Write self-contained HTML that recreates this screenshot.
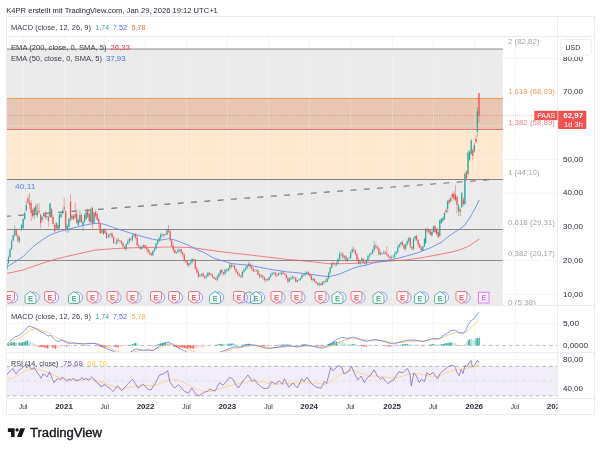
<!DOCTYPE html>
<html><head><meta charset="utf-8"><title>PAAS chart</title>
<style>html,body{margin:0;padding:0;background:#fff;}body{width:600px;height:451px;overflow:hidden;font-family:"Liberation Sans",sans-serif;}svg{display:block;will-change:transform;}</style>
</head><body>
<svg width="600" height="451" viewBox="0 0 600 451" font-family="Liberation Sans, sans-serif">
<rect width="600" height="451" fill="#ffffff"/>
<defs>
<clipPath id="cMain"><rect x="6.5" y="36.5" width="551.0" height="269.0"/></clipPath>
<clipPath id="cMacd"><rect x="6.5" y="305.5" width="551.0" height="47.0"/></clipPath>
<clipPath id="cRsi"><rect x="6.5" y="352.5" width="551.0" height="46.0"/></clipPath>
</defs>
<text x="6.3" y="12.6" font-size="6.7" fill="#1e222d" text-anchor="start" font-weight="normal" textLength="211.5" lengthAdjust="spacingAndGlyphs" >K4PR erstellt mit TradingView.com, Jan 29, 2026 19:12 UTC+1</text>
<line x1="23.5" y1="36.5" x2="23.5" y2="398.5" stroke="#f5f5f8" stroke-width="1"/>
<line x1="64.5" y1="36.5" x2="64.5" y2="398.5" stroke="#f5f5f8" stroke-width="1"/>
<line x1="104.5" y1="36.5" x2="104.5" y2="398.5" stroke="#f5f5f8" stroke-width="1"/>
<line x1="145.5" y1="36.5" x2="145.5" y2="398.5" stroke="#f5f5f8" stroke-width="1"/>
<line x1="186.5" y1="36.5" x2="186.5" y2="398.5" stroke="#f5f5f8" stroke-width="1"/>
<line x1="227.5" y1="36.5" x2="227.5" y2="398.5" stroke="#f5f5f8" stroke-width="1"/>
<line x1="268.5" y1="36.5" x2="268.5" y2="398.5" stroke="#f5f5f8" stroke-width="1"/>
<line x1="309.5" y1="36.5" x2="309.5" y2="398.5" stroke="#f5f5f8" stroke-width="1"/>
<line x1="350.5" y1="36.5" x2="350.5" y2="398.5" stroke="#f5f5f8" stroke-width="1"/>
<line x1="392.5" y1="36.5" x2="392.5" y2="398.5" stroke="#f5f5f8" stroke-width="1"/>
<line x1="433.5" y1="36.5" x2="433.5" y2="398.5" stroke="#f5f5f8" stroke-width="1"/>
<line x1="474.5" y1="36.5" x2="474.5" y2="398.5" stroke="#f5f5f8" stroke-width="1"/>
<line x1="515.5" y1="36.5" x2="515.5" y2="398.5" stroke="#f5f5f8" stroke-width="1"/>
<line x1="6.5" y1="58.4" x2="557.5" y2="58.4" stroke="#f5f5f8" stroke-width="1"/>
<line x1="6.5" y1="92.2" x2="557.5" y2="92.2" stroke="#f5f5f8" stroke-width="1"/>
<line x1="6.5" y1="125.7" x2="557.5" y2="125.7" stroke="#f5f5f8" stroke-width="1"/>
<line x1="6.5" y1="159.5" x2="557.5" y2="159.5" stroke="#f5f5f8" stroke-width="1"/>
<line x1="6.5" y1="193.2" x2="557.5" y2="193.2" stroke="#f5f5f8" stroke-width="1"/>
<line x1="6.5" y1="226.8" x2="557.5" y2="226.8" stroke="#f5f5f8" stroke-width="1"/>
<line x1="6.5" y1="260.6" x2="557.5" y2="260.6" stroke="#f5f5f8" stroke-width="1"/>
<line x1="6.5" y1="294.4" x2="557.5" y2="294.4" stroke="#f5f5f8" stroke-width="1"/>
<line x1="6.5" y1="323.4" x2="557.5" y2="323.4" stroke="#f5f5f8" stroke-width="1"/>
<line x1="6.5" y1="359.5" x2="557.5" y2="359.5" stroke="#f5f5f8" stroke-width="1"/>
<g clip-path="url(#cMain)">
<rect x="6.5" y="49.1" width="496.3" height="49.4" fill="#ebebeb"/>
<rect x="6.5" y="98.5" width="496.3" height="31.0" fill="#e8c6b4"/>
<rect x="6.5" y="129.5" width="496.3" height="50.0" fill="#fee9d0"/>
<rect x="6.5" y="179.5" width="496.3" height="50.0" fill="#ebebeb"/>
<rect x="6.5" y="229.5" width="496.3" height="31.0" fill="#ebebeb"/>
<rect x="6.5" y="260.5" width="496.3" height="47.5" fill="#ebebeb"/>
<line x1="23.5" y1="49.1" x2="23.5" y2="305.5" stroke="#ffffff" stroke-opacity="0.22" stroke-width="1"/>
<line x1="64.5" y1="49.1" x2="64.5" y2="305.5" stroke="#ffffff" stroke-opacity="0.22" stroke-width="1"/>
<line x1="104.5" y1="49.1" x2="104.5" y2="305.5" stroke="#ffffff" stroke-opacity="0.22" stroke-width="1"/>
<line x1="145.5" y1="49.1" x2="145.5" y2="305.5" stroke="#ffffff" stroke-opacity="0.22" stroke-width="1"/>
<line x1="186.5" y1="49.1" x2="186.5" y2="305.5" stroke="#ffffff" stroke-opacity="0.22" stroke-width="1"/>
<line x1="227.5" y1="49.1" x2="227.5" y2="305.5" stroke="#ffffff" stroke-opacity="0.22" stroke-width="1"/>
<line x1="268.5" y1="49.1" x2="268.5" y2="305.5" stroke="#ffffff" stroke-opacity="0.22" stroke-width="1"/>
<line x1="309.5" y1="49.1" x2="309.5" y2="305.5" stroke="#ffffff" stroke-opacity="0.22" stroke-width="1"/>
<line x1="350.5" y1="49.1" x2="350.5" y2="305.5" stroke="#ffffff" stroke-opacity="0.22" stroke-width="1"/>
<line x1="392.5" y1="49.1" x2="392.5" y2="305.5" stroke="#ffffff" stroke-opacity="0.22" stroke-width="1"/>
<line x1="433.5" y1="49.1" x2="433.5" y2="305.5" stroke="#ffffff" stroke-opacity="0.22" stroke-width="1"/>
<line x1="474.5" y1="49.1" x2="474.5" y2="305.5" stroke="#ffffff" stroke-opacity="0.22" stroke-width="1"/>
<line x1="6.5" y1="58.4" x2="502.8" y2="58.4" stroke="#ffffff" stroke-opacity="0.2" stroke-width="1"/>
<line x1="6.5" y1="92.2" x2="502.8" y2="92.2" stroke="#ffffff" stroke-opacity="0.2" stroke-width="1"/>
<line x1="6.5" y1="125.7" x2="502.8" y2="125.7" stroke="#ffffff" stroke-opacity="0.2" stroke-width="1"/>
<line x1="6.5" y1="159.5" x2="502.8" y2="159.5" stroke="#ffffff" stroke-opacity="0.2" stroke-width="1"/>
<line x1="6.5" y1="193.2" x2="502.8" y2="193.2" stroke="#ffffff" stroke-opacity="0.2" stroke-width="1"/>
<line x1="6.5" y1="226.8" x2="502.8" y2="226.8" stroke="#ffffff" stroke-opacity="0.2" stroke-width="1"/>
<line x1="6.5" y1="260.6" x2="502.8" y2="260.6" stroke="#ffffff" stroke-opacity="0.2" stroke-width="1"/>
<line x1="6.5" y1="294.4" x2="502.8" y2="294.4" stroke="#ffffff" stroke-opacity="0.2" stroke-width="1"/>
<line x1="6.5" y1="49.1" x2="502.8" y2="49.1" stroke="#b6b6b6" stroke-width="1.7"/>
<line x1="6.5" y1="98.5" x2="502.8" y2="98.5" stroke="#fa9b46" stroke-width="1.2"/>
<line x1="6.5" y1="129.5" x2="502.8" y2="129.5" stroke="#f36e78" stroke-width="1.2"/>
<line x1="6.5" y1="179.5" x2="502.8" y2="179.5" stroke="#838387" stroke-width="1"/>
<line x1="6.5" y1="229.5" x2="502.8" y2="229.5" stroke="#878787" stroke-width="1"/>
<line x1="6.5" y1="260.5" x2="502.8" y2="260.5" stroke="#8a8a8a" stroke-width="1"/>
<line x1="6.5" y1="115.6" x2="557.5" y2="115.6" stroke="#f23645" stroke-width="0.9" stroke-dasharray="0.9 1.4" opacity="0.5"/>
<line x1="6.5" y1="216.3" x2="489" y2="179.8" stroke="#707070" stroke-width="1.1" stroke-dasharray="5.9 7.42" stroke-dashoffset="1.4"/>
<polyline points="6.0,273.7 23.0,270.0 40.0,264.0 56.0,259.0 73.0,255.0 95.0,250.1 113.0,248.7 132.0,247.8 150.0,247.4 168.5,247.0 187.0,247.4 195.0,248.0 213.4,250.7 231.8,253.0 250.0,255.0 268.5,257.2 287.0,259.4 295.0,260.0 313.0,261.9 329.0,263.7 341.0,263.7 359.0,263.2 377.7,261.9 396.0,260.6 405.0,260.0 420.0,258.0 435.0,255.3 450.0,252.4 459.3,250.0 468.5,246.3 474.0,242.6 479.2,239.0" fill="none" stroke="#f0616b" stroke-width="0.8" stroke-linejoin="round" />
<polyline points="6.0,267.5 14.0,262.5 23.0,256.7 33.0,246.7 42.0,240.0 50.0,235.0 58.0,232.0 65.0,230.0 75.0,227.5 85.0,225.0 92.0,223.8 98.0,223.3 104.0,224.2 113.4,227.5 118.0,229.0 131.3,233.4 150.0,238.6 158.0,240.3 164.0,239.6 168.5,238.6 173.0,239.5 177.7,241.0 187.0,244.6 196.0,249.2 204.2,252.6 213.4,258.0 222.6,260.8 231.8,263.6 250.0,265.4 268.5,269.0 287.0,271.9 295.0,272.5 304.0,273.5 313.4,274.7 322.6,276.0 329.0,276.6 335.0,275.3 341.0,273.5 345.0,271.7 353.0,268.3 360.0,266.3 366.7,265.0 373.0,263.0 380.0,261.7 387.0,260.3 396.0,258.8 405.0,256.4 418.0,252.7 431.8,247.2 441.0,242.6 450.0,235.3 459.3,229.2 464.9,225.0 470.4,216.9 475.9,206.8 479.2,200.0" fill="none" stroke="#5b7cf7" stroke-width="0.8" stroke-linejoin="round" />
<line x1="6.90" y1="262.3" x2="6.90" y2="269.8" stroke="#26a69a" stroke-width="0.5"/>
<rect x="6.35" y="263.2" width="1.1" height="6.0" fill="#26a69a"/>
<line x1="8.47" y1="255.6" x2="8.47" y2="263.7" stroke="#26a69a" stroke-width="0.5"/>
<rect x="7.92" y="257.2" width="1.1" height="6.1" fill="#26a69a"/>
<line x1="10.04" y1="248.0" x2="10.04" y2="258.1" stroke="#26a69a" stroke-width="0.5"/>
<rect x="9.49" y="249.3" width="1.1" height="7.8" fill="#26a69a"/>
<line x1="11.61" y1="239.4" x2="11.61" y2="249.7" stroke="#26a69a" stroke-width="0.5"/>
<rect x="11.06" y="240.6" width="1.1" height="8.7" fill="#26a69a"/>
<line x1="13.18" y1="234.6" x2="13.18" y2="241.1" stroke="#26a69a" stroke-width="0.5"/>
<rect x="12.63" y="235.1" width="1.1" height="5.6" fill="#26a69a"/>
<line x1="14.75" y1="225.0" x2="14.75" y2="236.9" stroke="#26a69a" stroke-width="0.5"/>
<rect x="14.20" y="229.0" width="1.1" height="6.1" fill="#26a69a"/>
<line x1="16.32" y1="228.5" x2="16.32" y2="236.5" stroke="#ef5350" stroke-width="0.5"/>
<rect x="15.77" y="229.0" width="1.1" height="6.7" fill="#ef5350"/>
<line x1="17.89" y1="234.3" x2="17.89" y2="242.8" stroke="#ef5350" stroke-width="0.5"/>
<rect x="17.34" y="235.8" width="1.1" height="5.0" fill="#ef5350"/>
<line x1="19.46" y1="236.3" x2="19.46" y2="242.9" stroke="#26a69a" stroke-width="0.5"/>
<rect x="18.91" y="237.3" width="1.1" height="3.4" fill="#26a69a"/>
<line x1="108.93" y1="233.1" x2="108.93" y2="238.1" stroke="#26a69a" stroke-width="0.5"/>
<rect x="108.38" y="235.0" width="1.1" height="2.3" fill="#26a69a"/>
<line x1="110.50" y1="233.2" x2="110.50" y2="235.5" stroke="#26a69a" stroke-width="0.5"/>
<rect x="109.95" y="233.8" width="1.1" height="1.2" fill="#26a69a"/>
<line x1="112.07" y1="231.9" x2="112.07" y2="238.0" stroke="#ef5350" stroke-width="0.5"/>
<rect x="111.52" y="233.8" width="1.1" height="3.6" fill="#ef5350"/>
<line x1="113.64" y1="235.8" x2="113.64" y2="243.9" stroke="#ef5350" stroke-width="0.5"/>
<rect x="113.09" y="237.4" width="1.1" height="5.5" fill="#ef5350"/>
<line x1="115.21" y1="242.5" x2="115.21" y2="243.8" stroke="#ef5350" stroke-width="0.5"/>
<rect x="114.66" y="242.9" width="1.1" height="0.5" fill="#ef5350"/>
<line x1="116.78" y1="238.3" x2="116.78" y2="244.5" stroke="#26a69a" stroke-width="0.5"/>
<rect x="116.23" y="239.9" width="1.1" height="3.5" fill="#26a69a"/>
<line x1="118.35" y1="237.9" x2="118.35" y2="241.7" stroke="#ef5350" stroke-width="0.5"/>
<rect x="117.80" y="239.9" width="1.1" height="0.8" fill="#ef5350"/>
<line x1="119.92" y1="240.0" x2="119.92" y2="243.0" stroke="#ef5350" stroke-width="0.5"/>
<rect x="119.37" y="240.7" width="1.1" height="0.6" fill="#ef5350"/>
<line x1="121.49" y1="240.4" x2="121.49" y2="244.5" stroke="#ef5350" stroke-width="0.5"/>
<rect x="120.94" y="241.3" width="1.1" height="2.0" fill="#ef5350"/>
<line x1="123.06" y1="242.1" x2="123.06" y2="248.0" stroke="#ef5350" stroke-width="0.5"/>
<rect x="122.51" y="243.2" width="1.1" height="3.3" fill="#ef5350"/>
<line x1="124.63" y1="246.1" x2="124.63" y2="250.0" stroke="#ef5350" stroke-width="0.5"/>
<rect x="124.08" y="246.6" width="1.1" height="2.1" fill="#ef5350"/>
<line x1="126.20" y1="243.2" x2="126.20" y2="250.8" stroke="#26a69a" stroke-width="0.5"/>
<rect x="125.65" y="244.1" width="1.1" height="4.6" fill="#26a69a"/>
<line x1="127.77" y1="239.4" x2="127.77" y2="244.6" stroke="#26a69a" stroke-width="0.5"/>
<rect x="127.22" y="241.5" width="1.1" height="2.7" fill="#26a69a"/>
<line x1="129.34" y1="237.3" x2="129.34" y2="243.3" stroke="#26a69a" stroke-width="0.5"/>
<rect x="128.79" y="238.7" width="1.1" height="2.8" fill="#26a69a"/>
<line x1="130.91" y1="237.3" x2="130.91" y2="241.1" stroke="#ef5350" stroke-width="0.5"/>
<rect x="130.36" y="238.7" width="1.1" height="1.0" fill="#ef5350"/>
<line x1="132.48" y1="233.8" x2="132.48" y2="241.7" stroke="#26a69a" stroke-width="0.5"/>
<rect x="131.93" y="235.7" width="1.1" height="3.9" fill="#26a69a"/>
<line x1="134.05" y1="233.4" x2="134.05" y2="237.3" stroke="#26a69a" stroke-width="0.5"/>
<rect x="133.50" y="234.6" width="1.1" height="1.1" fill="#26a69a"/>
<line x1="135.62" y1="233.0" x2="135.62" y2="239.2" stroke="#ef5350" stroke-width="0.5"/>
<rect x="135.07" y="234.6" width="1.1" height="3.1" fill="#ef5350"/>
<line x1="137.19" y1="235.8" x2="137.19" y2="246.0" stroke="#ef5350" stroke-width="0.5"/>
<rect x="136.64" y="237.7" width="1.1" height="7.5" fill="#ef5350"/>
<line x1="138.75" y1="243.6" x2="138.75" y2="247.2" stroke="#ef5350" stroke-width="0.5"/>
<rect x="138.20" y="245.2" width="1.1" height="1.6" fill="#ef5350"/>
<line x1="140.32" y1="246.2" x2="140.32" y2="249.6" stroke="#ef5350" stroke-width="0.5"/>
<rect x="139.77" y="246.8" width="1.1" height="2.2" fill="#ef5350"/>
<line x1="141.89" y1="245.0" x2="141.89" y2="249.6" stroke="#26a69a" stroke-width="0.5"/>
<rect x="141.34" y="246.8" width="1.1" height="2.2" fill="#26a69a"/>
<line x1="143.46" y1="244.3" x2="143.46" y2="247.8" stroke="#26a69a" stroke-width="0.5"/>
<rect x="142.91" y="245.1" width="1.1" height="1.7" fill="#26a69a"/>
<line x1="145.03" y1="244.6" x2="145.03" y2="248.9" stroke="#ef5350" stroke-width="0.5"/>
<rect x="144.48" y="245.1" width="1.1" height="2.7" fill="#ef5350"/>
<line x1="146.60" y1="245.8" x2="146.60" y2="250.9" stroke="#ef5350" stroke-width="0.5"/>
<rect x="146.05" y="247.7" width="1.1" height="1.3" fill="#ef5350"/>
<line x1="148.17" y1="248.2" x2="148.17" y2="253.5" stroke="#ef5350" stroke-width="0.5"/>
<rect x="147.62" y="249.0" width="1.1" height="3.4" fill="#ef5350"/>
<line x1="149.74" y1="250.4" x2="149.74" y2="255.4" stroke="#ef5350" stroke-width="0.5"/>
<rect x="149.19" y="252.4" width="1.1" height="0.9" fill="#ef5350"/>
<line x1="151.31" y1="252.7" x2="151.31" y2="255.7" stroke="#ef5350" stroke-width="0.5"/>
<rect x="150.76" y="253.3" width="1.1" height="1.8" fill="#ef5350"/>
<line x1="152.88" y1="250.3" x2="152.88" y2="256.3" stroke="#26a69a" stroke-width="0.5"/>
<rect x="152.33" y="251.1" width="1.1" height="4.0" fill="#26a69a"/>
<line x1="154.45" y1="247.4" x2="154.45" y2="251.9" stroke="#26a69a" stroke-width="0.5"/>
<rect x="153.90" y="248.8" width="1.1" height="2.3" fill="#26a69a"/>
<line x1="156.02" y1="242.3" x2="156.02" y2="249.8" stroke="#26a69a" stroke-width="0.5"/>
<rect x="155.47" y="243.4" width="1.1" height="5.4" fill="#26a69a"/>
<line x1="157.59" y1="239.1" x2="157.59" y2="245.0" stroke="#26a69a" stroke-width="0.5"/>
<rect x="157.04" y="241.2" width="1.1" height="2.1" fill="#26a69a"/>
<line x1="159.16" y1="236.6" x2="159.16" y2="242.8" stroke="#26a69a" stroke-width="0.5"/>
<rect x="158.61" y="238.1" width="1.1" height="3.1" fill="#26a69a"/>
<line x1="160.73" y1="232.7" x2="160.73" y2="239.9" stroke="#26a69a" stroke-width="0.5"/>
<rect x="160.18" y="234.7" width="1.1" height="3.4" fill="#26a69a"/>
<line x1="162.30" y1="233.6" x2="162.30" y2="236.6" stroke="#ef5350" stroke-width="0.5"/>
<rect x="161.75" y="234.7" width="1.1" height="0.7" fill="#ef5350"/>
<line x1="163.87" y1="233.5" x2="163.87" y2="237.5" stroke="#26a69a" stroke-width="0.5"/>
<rect x="163.32" y="234.2" width="1.1" height="1.2" fill="#26a69a"/>
<line x1="165.44" y1="233.2" x2="165.44" y2="235.1" stroke="#ef5350" stroke-width="0.5"/>
<rect x="164.89" y="234.2" width="1.1" height="0.5" fill="#ef5350"/>
<line x1="167.01" y1="228.7" x2="167.01" y2="235.2" stroke="#26a69a" stroke-width="0.5"/>
<rect x="166.46" y="229.3" width="1.1" height="5.4" fill="#26a69a"/>
<line x1="168.58" y1="225.0" x2="168.58" y2="233.1" stroke="#ef5350" stroke-width="0.5"/>
<rect x="168.03" y="229.3" width="1.1" height="1.9" fill="#ef5350"/>
<line x1="170.15" y1="230.6" x2="170.15" y2="241.3" stroke="#ef5350" stroke-width="0.5"/>
<rect x="169.60" y="231.2" width="1.1" height="9.3" fill="#ef5350"/>
<line x1="171.72" y1="239.5" x2="171.72" y2="247.0" stroke="#ef5350" stroke-width="0.5"/>
<rect x="171.17" y="240.5" width="1.1" height="5.5" fill="#ef5350"/>
<line x1="173.29" y1="244.1" x2="173.29" y2="252.4" stroke="#ef5350" stroke-width="0.5"/>
<rect x="172.74" y="246.0" width="1.1" height="4.1" fill="#ef5350"/>
<line x1="174.86" y1="248.9" x2="174.86" y2="253.6" stroke="#ef5350" stroke-width="0.5"/>
<rect x="174.31" y="250.2" width="1.1" height="3.0" fill="#ef5350"/>
<line x1="176.43" y1="251.7" x2="176.43" y2="254.1" stroke="#26a69a" stroke-width="0.5"/>
<rect x="175.88" y="252.2" width="1.1" height="0.9" fill="#26a69a"/>
<line x1="178.00" y1="248.2" x2="178.00" y2="252.8" stroke="#26a69a" stroke-width="0.5"/>
<rect x="177.45" y="250.0" width="1.1" height="2.2" fill="#26a69a"/>
<line x1="179.57" y1="248.9" x2="179.57" y2="252.2" stroke="#26a69a" stroke-width="0.5"/>
<rect x="179.02" y="249.2" width="1.1" height="0.8" fill="#26a69a"/>
<line x1="181.14" y1="248.7" x2="181.14" y2="254.2" stroke="#ef5350" stroke-width="0.5"/>
<rect x="180.59" y="249.2" width="1.1" height="3.6" fill="#ef5350"/>
<line x1="182.71" y1="251.5" x2="182.71" y2="257.0" stroke="#ef5350" stroke-width="0.5"/>
<rect x="182.16" y="252.8" width="1.1" height="2.0" fill="#ef5350"/>
<line x1="184.28" y1="253.2" x2="184.28" y2="261.4" stroke="#ef5350" stroke-width="0.5"/>
<rect x="183.73" y="254.8" width="1.1" height="5.8" fill="#ef5350"/>
<line x1="185.85" y1="260.0" x2="185.85" y2="263.6" stroke="#ef5350" stroke-width="0.5"/>
<rect x="185.30" y="260.6" width="1.1" height="1.2" fill="#ef5350"/>
<line x1="187.42" y1="260.5" x2="187.42" y2="266.9" stroke="#ef5350" stroke-width="0.5"/>
<rect x="186.87" y="261.8" width="1.1" height="3.3" fill="#ef5350"/>
<line x1="188.99" y1="262.8" x2="188.99" y2="266.9" stroke="#26a69a" stroke-width="0.5"/>
<rect x="188.44" y="263.5" width="1.1" height="1.6" fill="#26a69a"/>
<line x1="190.55" y1="260.6" x2="190.55" y2="265.2" stroke="#26a69a" stroke-width="0.5"/>
<rect x="190.00" y="262.4" width="1.1" height="1.0" fill="#26a69a"/>
<line x1="192.12" y1="257.8" x2="192.12" y2="263.4" stroke="#26a69a" stroke-width="0.5"/>
<rect x="191.57" y="259.0" width="1.1" height="3.4" fill="#26a69a"/>
<line x1="193.69" y1="258.7" x2="193.69" y2="259.9" stroke="#ef5350" stroke-width="0.5"/>
<rect x="193.14" y="259.0" width="1.1" height="0.5" fill="#ef5350"/>
<line x1="195.26" y1="258.7" x2="195.26" y2="269.4" stroke="#ef5350" stroke-width="0.5"/>
<rect x="194.71" y="259.6" width="1.1" height="9.1" fill="#ef5350"/>
<line x1="196.83" y1="266.5" x2="196.83" y2="273.5" stroke="#ef5350" stroke-width="0.5"/>
<rect x="196.28" y="268.6" width="1.1" height="3.8" fill="#ef5350"/>
<line x1="198.40" y1="270.2" x2="198.40" y2="278.4" stroke="#ef5350" stroke-width="0.5"/>
<rect x="197.85" y="272.4" width="1.1" height="3.9" fill="#ef5350"/>
<line x1="199.97" y1="274.3" x2="199.97" y2="277.0" stroke="#26a69a" stroke-width="0.5"/>
<rect x="199.42" y="275.1" width="1.1" height="1.2" fill="#26a69a"/>
<line x1="201.54" y1="273.3" x2="201.54" y2="276.6" stroke="#26a69a" stroke-width="0.5"/>
<rect x="200.99" y="273.9" width="1.1" height="1.1" fill="#26a69a"/>
<line x1="203.11" y1="272.1" x2="203.11" y2="277.6" stroke="#ef5350" stroke-width="0.5"/>
<rect x="202.56" y="273.9" width="1.1" height="2.5" fill="#ef5350"/>
<line x1="204.68" y1="275.9" x2="204.68" y2="279.0" stroke="#ef5350" stroke-width="0.5"/>
<rect x="204.13" y="276.4" width="1.1" height="1.0" fill="#ef5350"/>
<line x1="206.25" y1="274.4" x2="206.25" y2="279.2" stroke="#26a69a" stroke-width="0.5"/>
<rect x="205.70" y="276.2" width="1.1" height="1.2" fill="#26a69a"/>
<line x1="207.82" y1="271.7" x2="207.82" y2="276.9" stroke="#26a69a" stroke-width="0.5"/>
<rect x="207.27" y="272.9" width="1.1" height="3.3" fill="#26a69a"/>
<line x1="209.39" y1="272.0" x2="209.39" y2="275.9" stroke="#ef5350" stroke-width="0.5"/>
<rect x="208.84" y="272.9" width="1.1" height="1.2" fill="#ef5350"/>
<line x1="210.96" y1="273.0" x2="210.96" y2="276.1" stroke="#ef5350" stroke-width="0.5"/>
<rect x="210.41" y="274.1" width="1.1" height="1.0" fill="#ef5350"/>
<line x1="212.53" y1="273.4" x2="212.53" y2="277.8" stroke="#ef5350" stroke-width="0.5"/>
<rect x="211.98" y="275.1" width="1.1" height="2.1" fill="#ef5350"/>
<line x1="214.10" y1="276.6" x2="214.10" y2="279.4" stroke="#ef5350" stroke-width="0.5"/>
<rect x="213.55" y="277.2" width="1.1" height="1.7" fill="#ef5350"/>
<line x1="215.67" y1="277.0" x2="215.67" y2="280.2" stroke="#ef5350" stroke-width="0.5"/>
<rect x="215.12" y="278.8" width="1.1" height="0.8" fill="#ef5350"/>
<line x1="217.24" y1="275.0" x2="217.24" y2="281.7" stroke="#26a69a" stroke-width="0.5"/>
<rect x="216.69" y="276.9" width="1.1" height="2.7" fill="#26a69a"/>
<line x1="218.81" y1="272.8" x2="218.81" y2="278.2" stroke="#26a69a" stroke-width="0.5"/>
<rect x="218.26" y="273.8" width="1.1" height="3.1" fill="#26a69a"/>
<line x1="220.38" y1="269.8" x2="220.38" y2="275.9" stroke="#26a69a" stroke-width="0.5"/>
<rect x="219.83" y="270.1" width="1.1" height="3.7" fill="#26a69a"/>
<line x1="221.95" y1="268.8" x2="221.95" y2="274.6" stroke="#ef5350" stroke-width="0.5"/>
<rect x="221.40" y="270.1" width="1.1" height="2.4" fill="#ef5350"/>
<line x1="223.52" y1="271.9" x2="223.52" y2="275.7" stroke="#ef5350" stroke-width="0.5"/>
<rect x="222.97" y="272.5" width="1.1" height="1.2" fill="#ef5350"/>
<line x1="225.09" y1="269.0" x2="225.09" y2="275.0" stroke="#26a69a" stroke-width="0.5"/>
<rect x="224.54" y="269.7" width="1.1" height="4.1" fill="#26a69a"/>
<line x1="226.66" y1="268.7" x2="226.66" y2="271.7" stroke="#ef5350" stroke-width="0.5"/>
<rect x="226.11" y="269.7" width="1.1" height="0.7" fill="#ef5350"/>
<line x1="228.23" y1="268.0" x2="228.23" y2="272.1" stroke="#26a69a" stroke-width="0.5"/>
<rect x="227.68" y="268.4" width="1.1" height="2.0" fill="#26a69a"/>
<line x1="229.80" y1="262.8" x2="229.80" y2="270.0" stroke="#26a69a" stroke-width="0.5"/>
<rect x="229.25" y="264.8" width="1.1" height="3.6" fill="#26a69a"/>
<line x1="231.37" y1="263.5" x2="231.37" y2="268.3" stroke="#ef5350" stroke-width="0.5"/>
<rect x="230.82" y="264.8" width="1.1" height="1.6" fill="#ef5350"/>
<line x1="232.94" y1="264.4" x2="232.94" y2="266.8" stroke="#26a69a" stroke-width="0.5"/>
<rect x="232.39" y="265.6" width="1.1" height="0.8" fill="#26a69a"/>
<line x1="234.51" y1="265.0" x2="234.51" y2="269.6" stroke="#ef5350" stroke-width="0.5"/>
<rect x="233.96" y="265.6" width="1.1" height="3.7" fill="#ef5350"/>
<line x1="236.08" y1="267.5" x2="236.08" y2="272.9" stroke="#ef5350" stroke-width="0.5"/>
<rect x="235.53" y="269.3" width="1.1" height="2.9" fill="#ef5350"/>
<line x1="237.65" y1="270.6" x2="237.65" y2="275.7" stroke="#ef5350" stroke-width="0.5"/>
<rect x="237.10" y="272.2" width="1.1" height="2.1" fill="#ef5350"/>
<line x1="239.22" y1="273.0" x2="239.22" y2="277.2" stroke="#ef5350" stroke-width="0.5"/>
<rect x="238.67" y="274.3" width="1.1" height="1.5" fill="#ef5350"/>
<line x1="240.79" y1="275.3" x2="240.79" y2="278.1" stroke="#ef5350" stroke-width="0.5"/>
<rect x="240.24" y="275.8" width="1.1" height="0.9" fill="#ef5350"/>
<line x1="242.36" y1="271.1" x2="242.36" y2="278.5" stroke="#26a69a" stroke-width="0.5"/>
<rect x="241.81" y="271.9" width="1.1" height="4.9" fill="#26a69a"/>
<line x1="243.92" y1="268.4" x2="243.92" y2="273.3" stroke="#26a69a" stroke-width="0.5"/>
<rect x="243.37" y="269.7" width="1.1" height="2.2" fill="#26a69a"/>
<line x1="245.49" y1="266.3" x2="245.49" y2="270.8" stroke="#26a69a" stroke-width="0.5"/>
<rect x="244.94" y="268.3" width="1.1" height="1.4" fill="#26a69a"/>
<line x1="247.06" y1="264.4" x2="247.06" y2="269.6" stroke="#26a69a" stroke-width="0.5"/>
<rect x="246.51" y="265.7" width="1.1" height="2.7" fill="#26a69a"/>
<line x1="248.63" y1="261.5" x2="248.63" y2="266.8" stroke="#26a69a" stroke-width="0.5"/>
<rect x="248.08" y="264.1" width="1.1" height="1.6" fill="#26a69a"/>
<line x1="250.20" y1="262.9" x2="250.20" y2="268.6" stroke="#ef5350" stroke-width="0.5"/>
<rect x="249.65" y="264.1" width="1.1" height="2.4" fill="#ef5350"/>
<line x1="251.77" y1="264.9" x2="251.77" y2="270.6" stroke="#ef5350" stroke-width="0.5"/>
<rect x="251.22" y="266.5" width="1.1" height="2.2" fill="#ef5350"/>
<line x1="253.34" y1="267.9" x2="253.34" y2="272.1" stroke="#ef5350" stroke-width="0.5"/>
<rect x="252.79" y="268.7" width="1.1" height="2.1" fill="#ef5350"/>
<line x1="254.91" y1="268.9" x2="254.91" y2="271.8" stroke="#ef5350" stroke-width="0.5"/>
<rect x="254.36" y="270.8" width="1.1" height="0.5" fill="#ef5350"/>
<line x1="256.48" y1="269.2" x2="256.48" y2="271.6" stroke="#26a69a" stroke-width="0.5"/>
<rect x="255.93" y="270.4" width="1.1" height="0.8" fill="#26a69a"/>
<line x1="258.05" y1="269.6" x2="258.05" y2="275.2" stroke="#ef5350" stroke-width="0.5"/>
<rect x="257.50" y="270.4" width="1.1" height="4.4" fill="#ef5350"/>
<line x1="259.62" y1="273.0" x2="259.62" y2="278.6" stroke="#ef5350" stroke-width="0.5"/>
<rect x="259.07" y="274.8" width="1.1" height="1.8" fill="#ef5350"/>
<line x1="261.19" y1="273.9" x2="261.19" y2="278.1" stroke="#26a69a" stroke-width="0.5"/>
<rect x="260.64" y="275.5" width="1.1" height="1.0" fill="#26a69a"/>
<line x1="262.76" y1="275.0" x2="262.76" y2="279.3" stroke="#ef5350" stroke-width="0.5"/>
<rect x="262.21" y="275.5" width="1.1" height="1.8" fill="#ef5350"/>
<line x1="264.33" y1="276.6" x2="264.33" y2="281.9" stroke="#ef5350" stroke-width="0.5"/>
<rect x="263.78" y="277.3" width="1.1" height="2.5" fill="#ef5350"/>
<line x1="265.90" y1="277.9" x2="265.90" y2="282.0" stroke="#26a69a" stroke-width="0.5"/>
<rect x="265.35" y="279.1" width="1.1" height="0.7" fill="#26a69a"/>
<line x1="267.47" y1="278.5" x2="267.47" y2="281.3" stroke="#ef5350" stroke-width="0.5"/>
<rect x="266.92" y="279.1" width="1.1" height="1.0" fill="#ef5350"/>
<line x1="269.04" y1="276.3" x2="269.04" y2="280.8" stroke="#26a69a" stroke-width="0.5"/>
<rect x="268.49" y="277.2" width="1.1" height="2.9" fill="#26a69a"/>
<line x1="270.61" y1="272.8" x2="270.61" y2="277.6" stroke="#26a69a" stroke-width="0.5"/>
<rect x="270.06" y="274.5" width="1.1" height="2.7" fill="#26a69a"/>
<line x1="272.18" y1="271.8" x2="272.18" y2="275.6" stroke="#26a69a" stroke-width="0.5"/>
<rect x="271.63" y="273.1" width="1.1" height="1.4" fill="#26a69a"/>
<line x1="273.75" y1="271.6" x2="273.75" y2="274.6" stroke="#26a69a" stroke-width="0.5"/>
<rect x="273.20" y="272.5" width="1.1" height="0.6" fill="#26a69a"/>
<line x1="275.32" y1="272.1" x2="275.32" y2="277.0" stroke="#ef5350" stroke-width="0.5"/>
<rect x="274.77" y="272.5" width="1.1" height="2.4" fill="#ef5350"/>
<line x1="276.89" y1="273.1" x2="276.89" y2="277.6" stroke="#ef5350" stroke-width="0.5"/>
<rect x="276.34" y="274.9" width="1.1" height="0.6" fill="#ef5350"/>
<line x1="278.46" y1="272.7" x2="278.46" y2="275.8" stroke="#26a69a" stroke-width="0.5"/>
<rect x="277.91" y="273.5" width="1.1" height="1.9" fill="#26a69a"/>
<line x1="280.03" y1="271.7" x2="280.03" y2="274.8" stroke="#ef5350" stroke-width="0.5"/>
<rect x="279.48" y="273.5" width="1.1" height="0.5" fill="#ef5350"/>
<line x1="281.60" y1="271.4" x2="281.60" y2="276.0" stroke="#26a69a" stroke-width="0.5"/>
<rect x="281.05" y="272.5" width="1.1" height="1.4" fill="#26a69a"/>
<line x1="283.17" y1="270.7" x2="283.17" y2="274.4" stroke="#ef5350" stroke-width="0.5"/>
<rect x="282.62" y="272.5" width="1.1" height="1.1" fill="#ef5350"/>
<line x1="284.74" y1="273.2" x2="284.74" y2="275.0" stroke="#ef5350" stroke-width="0.5"/>
<rect x="284.19" y="273.6" width="1.1" height="1.0" fill="#ef5350"/>
<line x1="286.31" y1="273.5" x2="286.31" y2="278.4" stroke="#ef5350" stroke-width="0.5"/>
<rect x="285.76" y="274.6" width="1.1" height="3.4" fill="#ef5350"/>
<line x1="287.88" y1="276.5" x2="287.88" y2="283.4" stroke="#ef5350" stroke-width="0.5"/>
<rect x="287.33" y="278.0" width="1.1" height="3.6" fill="#ef5350"/>
<line x1="289.45" y1="277.0" x2="289.45" y2="282.0" stroke="#26a69a" stroke-width="0.5"/>
<rect x="288.90" y="278.9" width="1.1" height="2.7" fill="#26a69a"/>
<line x1="291.02" y1="276.1" x2="291.02" y2="280.1" stroke="#26a69a" stroke-width="0.5"/>
<rect x="290.47" y="278.0" width="1.1" height="0.9" fill="#26a69a"/>
<line x1="292.59" y1="275.5" x2="292.59" y2="280.1" stroke="#26a69a" stroke-width="0.5"/>
<rect x="292.04" y="276.9" width="1.1" height="1.1" fill="#26a69a"/>
<line x1="294.16" y1="276.3" x2="294.16" y2="279.0" stroke="#ef5350" stroke-width="0.5"/>
<rect x="293.61" y="276.9" width="1.1" height="0.8" fill="#ef5350"/>
<line x1="295.72" y1="276.9" x2="295.72" y2="282.4" stroke="#ef5350" stroke-width="0.5"/>
<rect x="295.17" y="277.7" width="1.1" height="4.2" fill="#ef5350"/>
<line x1="297.29" y1="279.7" x2="297.29" y2="282.6" stroke="#26a69a" stroke-width="0.5"/>
<rect x="296.74" y="280.1" width="1.1" height="1.8" fill="#26a69a"/>
<line x1="298.86" y1="278.7" x2="298.86" y2="281.0" stroke="#26a69a" stroke-width="0.5"/>
<rect x="298.31" y="279.6" width="1.1" height="0.5" fill="#26a69a"/>
<line x1="300.43" y1="277.5" x2="300.43" y2="280.9" stroke="#26a69a" stroke-width="0.5"/>
<rect x="299.88" y="278.3" width="1.1" height="1.3" fill="#26a69a"/>
<line x1="302.00" y1="273.8" x2="302.00" y2="278.7" stroke="#26a69a" stroke-width="0.5"/>
<rect x="301.45" y="274.7" width="1.1" height="3.6" fill="#26a69a"/>
<line x1="303.57" y1="274.4" x2="303.57" y2="276.4" stroke="#ef5350" stroke-width="0.5"/>
<rect x="303.02" y="274.7" width="1.1" height="0.5" fill="#ef5350"/>
<line x1="305.14" y1="271.2" x2="305.14" y2="276.4" stroke="#26a69a" stroke-width="0.5"/>
<rect x="304.59" y="273.4" width="1.1" height="1.8" fill="#26a69a"/>
<line x1="306.71" y1="271.4" x2="306.71" y2="274.5" stroke="#26a69a" stroke-width="0.5"/>
<rect x="306.16" y="272.2" width="1.1" height="1.2" fill="#26a69a"/>
<line x1="308.28" y1="270.7" x2="308.28" y2="275.8" stroke="#ef5350" stroke-width="0.5"/>
<rect x="307.73" y="272.2" width="1.1" height="2.1" fill="#ef5350"/>
<line x1="309.85" y1="272.9" x2="309.85" y2="277.9" stroke="#ef5350" stroke-width="0.5"/>
<rect x="309.30" y="274.3" width="1.1" height="1.7" fill="#ef5350"/>
<line x1="311.42" y1="275.1" x2="311.42" y2="280.7" stroke="#ef5350" stroke-width="0.5"/>
<rect x="310.87" y="275.9" width="1.1" height="4.1" fill="#ef5350"/>
<line x1="312.99" y1="277.3" x2="312.99" y2="281.5" stroke="#26a69a" stroke-width="0.5"/>
<rect x="312.44" y="279.0" width="1.1" height="1.1" fill="#26a69a"/>
<line x1="314.56" y1="278.0" x2="314.56" y2="282.0" stroke="#ef5350" stroke-width="0.5"/>
<rect x="314.01" y="279.0" width="1.1" height="2.6" fill="#ef5350"/>
<line x1="316.13" y1="281.0" x2="316.13" y2="283.5" stroke="#ef5350" stroke-width="0.5"/>
<rect x="315.58" y="281.6" width="1.1" height="1.5" fill="#ef5350"/>
<line x1="317.70" y1="282.3" x2="317.70" y2="285.4" stroke="#ef5350" stroke-width="0.5"/>
<rect x="317.15" y="283.1" width="1.1" height="1.7" fill="#ef5350"/>
<line x1="319.27" y1="281.7" x2="319.27" y2="286.7" stroke="#26a69a" stroke-width="0.5"/>
<rect x="318.72" y="283.6" width="1.1" height="1.2" fill="#26a69a"/>
<line x1="320.84" y1="282.7" x2="320.84" y2="285.6" stroke="#ef5350" stroke-width="0.5"/>
<rect x="320.29" y="283.6" width="1.1" height="1.3" fill="#ef5350"/>
<line x1="322.41" y1="281.1" x2="322.41" y2="285.4" stroke="#26a69a" stroke-width="0.5"/>
<rect x="321.86" y="282.3" width="1.1" height="2.6" fill="#26a69a"/>
<line x1="323.98" y1="280.6" x2="323.98" y2="284.4" stroke="#26a69a" stroke-width="0.5"/>
<rect x="323.43" y="281.4" width="1.1" height="0.9" fill="#26a69a"/>
<line x1="325.55" y1="279.2" x2="325.55" y2="282.8" stroke="#ef5350" stroke-width="0.5"/>
<rect x="325.00" y="281.4" width="1.1" height="0.6" fill="#ef5350"/>
<line x1="327.12" y1="277.5" x2="327.12" y2="282.3" stroke="#26a69a" stroke-width="0.5"/>
<rect x="326.57" y="278.5" width="1.1" height="3.5" fill="#26a69a"/>
<line x1="328.69" y1="271.5" x2="328.69" y2="279.7" stroke="#26a69a" stroke-width="0.5"/>
<rect x="328.14" y="272.7" width="1.1" height="5.8" fill="#26a69a"/>
<line x1="330.26" y1="266.8" x2="330.26" y2="273.9" stroke="#26a69a" stroke-width="0.5"/>
<rect x="329.71" y="267.5" width="1.1" height="5.1" fill="#26a69a"/>
<line x1="331.83" y1="262.5" x2="331.83" y2="268.3" stroke="#26a69a" stroke-width="0.5"/>
<rect x="331.28" y="262.8" width="1.1" height="4.7" fill="#26a69a"/>
<line x1="333.40" y1="261.8" x2="333.40" y2="264.6" stroke="#ef5350" stroke-width="0.5"/>
<rect x="332.85" y="262.8" width="1.1" height="0.9" fill="#ef5350"/>
<line x1="334.97" y1="263.2" x2="334.97" y2="266.4" stroke="#ef5350" stroke-width="0.5"/>
<rect x="334.42" y="263.7" width="1.1" height="0.6" fill="#ef5350"/>
<line x1="336.54" y1="261.8" x2="336.54" y2="266.2" stroke="#26a69a" stroke-width="0.5"/>
<rect x="335.99" y="262.4" width="1.1" height="1.9" fill="#26a69a"/>
<line x1="338.11" y1="257.6" x2="338.11" y2="264.1" stroke="#26a69a" stroke-width="0.5"/>
<rect x="337.56" y="259.0" width="1.1" height="3.4" fill="#26a69a"/>
<line x1="339.68" y1="251.5" x2="339.68" y2="260.2" stroke="#26a69a" stroke-width="0.5"/>
<rect x="339.13" y="254.4" width="1.1" height="4.6" fill="#26a69a"/>
<line x1="341.25" y1="252.0" x2="341.25" y2="256.4" stroke="#26a69a" stroke-width="0.5"/>
<rect x="340.70" y="253.9" width="1.1" height="0.5" fill="#26a69a"/>
<line x1="342.82" y1="252.2" x2="342.82" y2="259.4" stroke="#ef5350" stroke-width="0.5"/>
<rect x="342.27" y="253.9" width="1.1" height="3.6" fill="#ef5350"/>
<line x1="344.39" y1="255.0" x2="344.39" y2="259.5" stroke="#26a69a" stroke-width="0.5"/>
<rect x="343.84" y="256.4" width="1.1" height="1.1" fill="#26a69a"/>
<line x1="345.96" y1="254.8" x2="345.96" y2="261.8" stroke="#ef5350" stroke-width="0.5"/>
<rect x="345.41" y="256.4" width="1.1" height="4.6" fill="#ef5350"/>
<line x1="347.52" y1="258.2" x2="347.52" y2="262.0" stroke="#26a69a" stroke-width="0.5"/>
<rect x="346.97" y="258.7" width="1.1" height="2.3" fill="#26a69a"/>
<line x1="349.09" y1="256.9" x2="349.09" y2="259.1" stroke="#26a69a" stroke-width="0.5"/>
<rect x="348.54" y="258.0" width="1.1" height="0.7" fill="#26a69a"/>
<line x1="350.66" y1="250.9" x2="350.66" y2="258.8" stroke="#26a69a" stroke-width="0.5"/>
<rect x="350.11" y="252.2" width="1.1" height="5.8" fill="#26a69a"/>
<line x1="352.23" y1="246.5" x2="352.23" y2="253.4" stroke="#26a69a" stroke-width="0.5"/>
<rect x="351.68" y="249.3" width="1.1" height="2.9" fill="#26a69a"/>
<line x1="353.80" y1="247.3" x2="353.80" y2="252.3" stroke="#ef5350" stroke-width="0.5"/>
<rect x="353.25" y="249.3" width="1.1" height="1.0" fill="#ef5350"/>
<line x1="355.37" y1="249.8" x2="355.37" y2="255.3" stroke="#ef5350" stroke-width="0.5"/>
<rect x="354.82" y="250.3" width="1.1" height="3.7" fill="#ef5350"/>
<line x1="356.94" y1="252.8" x2="356.94" y2="261.4" stroke="#ef5350" stroke-width="0.5"/>
<rect x="356.39" y="254.0" width="1.1" height="5.5" fill="#ef5350"/>
<line x1="358.51" y1="257.6" x2="358.51" y2="264.2" stroke="#ef5350" stroke-width="0.5"/>
<rect x="357.96" y="259.5" width="1.1" height="4.0" fill="#ef5350"/>
<line x1="360.08" y1="260.5" x2="360.08" y2="265.0" stroke="#26a69a" stroke-width="0.5"/>
<rect x="359.53" y="261.2" width="1.1" height="2.3" fill="#26a69a"/>
<line x1="361.65" y1="256.8" x2="361.65" y2="261.7" stroke="#26a69a" stroke-width="0.5"/>
<rect x="361.10" y="258.7" width="1.1" height="2.5" fill="#26a69a"/>
<line x1="363.22" y1="257.9" x2="363.22" y2="262.9" stroke="#ef5350" stroke-width="0.5"/>
<rect x="362.67" y="258.7" width="1.1" height="3.8" fill="#ef5350"/>
<line x1="364.79" y1="261.0" x2="364.79" y2="264.2" stroke="#ef5350" stroke-width="0.5"/>
<rect x="364.24" y="262.5" width="1.1" height="1.0" fill="#ef5350"/>
<line x1="366.36" y1="259.1" x2="366.36" y2="265.1" stroke="#26a69a" stroke-width="0.5"/>
<rect x="365.81" y="260.1" width="1.1" height="3.5" fill="#26a69a"/>
<line x1="367.93" y1="254.6" x2="367.93" y2="261.5" stroke="#26a69a" stroke-width="0.5"/>
<rect x="367.38" y="256.2" width="1.1" height="3.8" fill="#26a69a"/>
<line x1="369.50" y1="253.0" x2="369.50" y2="257.5" stroke="#26a69a" stroke-width="0.5"/>
<rect x="368.95" y="254.3" width="1.1" height="2.0" fill="#26a69a"/>
<line x1="371.07" y1="251.7" x2="371.07" y2="255.1" stroke="#26a69a" stroke-width="0.5"/>
<rect x="370.52" y="253.3" width="1.1" height="1.0" fill="#26a69a"/>
<line x1="372.64" y1="248.8" x2="372.64" y2="254.5" stroke="#26a69a" stroke-width="0.5"/>
<rect x="372.09" y="250.0" width="1.1" height="3.3" fill="#26a69a"/>
<line x1="374.21" y1="240.7" x2="374.21" y2="252.0" stroke="#26a69a" stroke-width="0.5"/>
<rect x="373.66" y="245.6" width="1.1" height="4.4" fill="#26a69a"/>
<line x1="375.78" y1="243.4" x2="375.78" y2="248.8" stroke="#ef5350" stroke-width="0.5"/>
<rect x="375.23" y="245.6" width="1.1" height="1.1" fill="#ef5350"/>
<line x1="377.35" y1="245.5" x2="377.35" y2="250.4" stroke="#ef5350" stroke-width="0.5"/>
<rect x="376.80" y="246.7" width="1.1" height="1.8" fill="#ef5350"/>
<line x1="378.92" y1="247.4" x2="378.92" y2="255.5" stroke="#ef5350" stroke-width="0.5"/>
<rect x="378.37" y="248.5" width="1.1" height="6.1" fill="#ef5350"/>
<line x1="380.49" y1="251.0" x2="380.49" y2="255.4" stroke="#26a69a" stroke-width="0.5"/>
<rect x="379.94" y="253.1" width="1.1" height="1.5" fill="#26a69a"/>
<line x1="382.06" y1="252.6" x2="382.06" y2="254.8" stroke="#ef5350" stroke-width="0.5"/>
<rect x="381.51" y="253.1" width="1.1" height="0.5" fill="#ef5350"/>
<line x1="383.63" y1="250.3" x2="383.63" y2="254.1" stroke="#26a69a" stroke-width="0.5"/>
<rect x="383.08" y="252.4" width="1.1" height="1.1" fill="#26a69a"/>
<line x1="385.20" y1="250.8" x2="385.20" y2="254.3" stroke="#ef5350" stroke-width="0.5"/>
<rect x="384.65" y="252.4" width="1.1" height="1.1" fill="#ef5350"/>
<line x1="386.77" y1="246.3" x2="386.77" y2="255.6" stroke="#ef5350" stroke-width="0.5"/>
<rect x="386.22" y="253.5" width="1.1" height="1.7" fill="#ef5350"/>
<line x1="388.34" y1="254.0" x2="388.34" y2="257.9" stroke="#ef5350" stroke-width="0.5"/>
<rect x="387.79" y="255.2" width="1.1" height="1.5" fill="#ef5350"/>
<line x1="389.91" y1="256.2" x2="389.91" y2="259.1" stroke="#ef5350" stroke-width="0.5"/>
<rect x="389.36" y="256.8" width="1.1" height="1.4" fill="#ef5350"/>
<line x1="391.48" y1="255.4" x2="391.48" y2="258.5" stroke="#26a69a" stroke-width="0.5"/>
<rect x="390.93" y="257.3" width="1.1" height="0.8" fill="#26a69a"/>
<line x1="393.05" y1="254.9" x2="393.05" y2="257.9" stroke="#26a69a" stroke-width="0.5"/>
<rect x="392.50" y="256.8" width="1.1" height="0.5" fill="#26a69a"/>
<line x1="394.62" y1="251.8" x2="394.62" y2="258.5" stroke="#26a69a" stroke-width="0.5"/>
<rect x="394.07" y="253.8" width="1.1" height="3.0" fill="#26a69a"/>
<line x1="396.19" y1="251.0" x2="396.19" y2="254.9" stroke="#26a69a" stroke-width="0.5"/>
<rect x="395.64" y="251.9" width="1.1" height="2.0" fill="#26a69a"/>
<line x1="397.76" y1="244.8" x2="397.76" y2="253.3" stroke="#26a69a" stroke-width="0.5"/>
<rect x="397.21" y="247.0" width="1.1" height="4.9" fill="#26a69a"/>
<line x1="399.32" y1="243.4" x2="399.32" y2="247.8" stroke="#26a69a" stroke-width="0.5"/>
<rect x="398.77" y="244.5" width="1.1" height="2.5" fill="#26a69a"/>
<line x1="400.89" y1="241.9" x2="400.89" y2="246.4" stroke="#26a69a" stroke-width="0.5"/>
<rect x="400.34" y="242.4" width="1.1" height="2.1" fill="#26a69a"/>
<line x1="402.46" y1="240.3" x2="402.46" y2="245.7" stroke="#ef5350" stroke-width="0.5"/>
<rect x="401.91" y="242.4" width="1.1" height="2.5" fill="#ef5350"/>
<line x1="404.03" y1="244.1" x2="404.03" y2="249.9" stroke="#ef5350" stroke-width="0.5"/>
<rect x="403.48" y="244.9" width="1.1" height="3.8" fill="#ef5350"/>
<line x1="405.60" y1="243.3" x2="405.60" y2="250.8" stroke="#26a69a" stroke-width="0.5"/>
<rect x="405.05" y="244.3" width="1.1" height="4.3" fill="#26a69a"/>
<line x1="407.17" y1="239.4" x2="407.17" y2="246.2" stroke="#26a69a" stroke-width="0.5"/>
<rect x="406.62" y="241.3" width="1.1" height="3.0" fill="#26a69a"/>
<line x1="408.74" y1="236.6" x2="408.74" y2="243.4" stroke="#26a69a" stroke-width="0.5"/>
<rect x="408.19" y="238.1" width="1.1" height="3.2" fill="#26a69a"/>
<line x1="410.31" y1="236.8" x2="410.31" y2="248.3" stroke="#ef5350" stroke-width="0.5"/>
<rect x="409.76" y="238.1" width="1.1" height="8.5" fill="#ef5350"/>
<line x1="411.88" y1="246.2" x2="411.88" y2="250.3" stroke="#ef5350" stroke-width="0.5"/>
<rect x="411.33" y="246.6" width="1.1" height="2.0" fill="#ef5350"/>
<line x1="413.45" y1="237.4" x2="413.45" y2="250.2" stroke="#26a69a" stroke-width="0.5"/>
<rect x="412.90" y="239.2" width="1.1" height="9.5" fill="#26a69a"/>
<line x1="415.02" y1="235.6" x2="415.02" y2="241.2" stroke="#26a69a" stroke-width="0.5"/>
<rect x="414.47" y="236.0" width="1.1" height="3.2" fill="#26a69a"/>
<line x1="416.59" y1="234.8" x2="416.59" y2="241.1" stroke="#ef5350" stroke-width="0.5"/>
<rect x="416.04" y="236.0" width="1.1" height="4.2" fill="#ef5350"/>
<line x1="418.16" y1="238.5" x2="418.16" y2="246.8" stroke="#ef5350" stroke-width="0.5"/>
<rect x="417.61" y="240.2" width="1.1" height="4.5" fill="#ef5350"/>
<line x1="419.73" y1="243.1" x2="419.73" y2="248.4" stroke="#ef5350" stroke-width="0.5"/>
<rect x="419.18" y="244.7" width="1.1" height="2.8" fill="#ef5350"/>
<line x1="421.30" y1="246.2" x2="421.30" y2="251.4" stroke="#ef5350" stroke-width="0.5"/>
<rect x="420.75" y="247.5" width="1.1" height="2.8" fill="#ef5350"/>
<line x1="422.87" y1="245.7" x2="422.87" y2="251.1" stroke="#26a69a" stroke-width="0.5"/>
<rect x="422.32" y="246.3" width="1.1" height="4.1" fill="#26a69a"/>
<line x1="424.44" y1="237.8" x2="424.44" y2="247.0" stroke="#26a69a" stroke-width="0.5"/>
<rect x="423.89" y="239.0" width="1.1" height="7.2" fill="#26a69a"/>
<line x1="21.50" y1="224.0" x2="21.50" y2="231.0" stroke="#26a69a" stroke-width="0.5"/>
<rect x="20.90" y="225.0" width="1.2" height="5.0" fill="#26a69a"/>
<line x1="23.10" y1="218.0" x2="23.10" y2="229.0" stroke="#26a69a" stroke-width="0.5"/>
<rect x="22.50" y="219.0" width="1.2" height="9.0" fill="#26a69a"/>
<line x1="24.70" y1="211.5" x2="24.70" y2="220.0" stroke="#26a69a" stroke-width="0.5"/>
<rect x="24.10" y="213.0" width="1.2" height="6.0" fill="#26a69a"/>
<line x1="26.30" y1="201.0" x2="26.30" y2="211.5" stroke="#26a69a" stroke-width="0.5"/>
<rect x="25.70" y="205.0" width="1.2" height="5.5" fill="#26a69a"/>
<line x1="27.90" y1="195.5" x2="27.90" y2="204.0" stroke="#ef5350" stroke-width="0.5"/>
<rect x="27.30" y="198.5" width="1.2" height="3.5" fill="#ef5350"/>
<line x1="29.50" y1="193.0" x2="29.50" y2="209.0" stroke="#ef5350" stroke-width="0.5"/>
<rect x="28.90" y="202.0" width="1.2" height="3.0" fill="#ef5350"/>
<line x1="31.10" y1="200.0" x2="31.10" y2="221.0" stroke="#ef5350" stroke-width="0.5"/>
<rect x="30.50" y="203.0" width="1.2" height="10.0" fill="#ef5350"/>
<line x1="32.70" y1="208.5" x2="32.70" y2="218.0" stroke="#ef5350" stroke-width="0.5"/>
<rect x="32.10" y="210.0" width="1.2" height="6.0" fill="#ef5350"/>
<line x1="34.30" y1="206.5" x2="34.30" y2="219.0" stroke="#26a69a" stroke-width="0.5"/>
<rect x="33.70" y="208.0" width="1.2" height="6.5" fill="#26a69a"/>
<line x1="35.80" y1="203.5" x2="35.80" y2="214.0" stroke="#ef5350" stroke-width="0.5"/>
<rect x="35.20" y="206.0" width="1.2" height="6.0" fill="#ef5350"/>
<line x1="37.40" y1="203.5" x2="37.40" y2="218.0" stroke="#26a69a" stroke-width="0.5"/>
<rect x="36.80" y="211.5" width="1.2" height="4.0" fill="#26a69a"/>
<line x1="39.00" y1="203.5" x2="39.00" y2="214.0" stroke="#ef5350" stroke-width="0.5"/>
<rect x="38.40" y="211.0" width="1.2" height="1.2" fill="#ef5350"/>
<line x1="40.60" y1="213.5" x2="40.60" y2="227.5" stroke="#ef5350" stroke-width="0.5"/>
<rect x="40.00" y="215.0" width="1.2" height="8.0" fill="#ef5350"/>
<line x1="42.10" y1="215.5" x2="42.10" y2="222.0" stroke="#26a69a" stroke-width="0.5"/>
<rect x="41.50" y="217.0" width="1.2" height="3.0" fill="#26a69a"/>
<line x1="43.70" y1="212.0" x2="43.70" y2="217.0" stroke="#26a69a" stroke-width="0.5"/>
<rect x="43.10" y="213.0" width="1.2" height="3.0" fill="#26a69a"/>
<line x1="45.30" y1="211.0" x2="45.30" y2="219.0" stroke="#ef5350" stroke-width="0.5"/>
<rect x="44.70" y="213.0" width="1.2" height="4.5" fill="#ef5350"/>
<line x1="46.80" y1="214.5" x2="46.80" y2="218.5" stroke="#26a69a" stroke-width="0.5"/>
<rect x="46.20" y="216.0" width="1.2" height="1.0" fill="#26a69a"/>
<line x1="48.40" y1="215.5" x2="48.40" y2="227.0" stroke="#ef5350" stroke-width="0.5"/>
<rect x="47.80" y="217.0" width="1.2" height="4.0" fill="#ef5350"/>
<line x1="50.00" y1="202.5" x2="50.00" y2="218.0" stroke="#26a69a" stroke-width="0.5"/>
<rect x="49.40" y="203.5" width="1.2" height="13.5" fill="#26a69a"/>
<line x1="51.60" y1="208.0" x2="51.60" y2="218.5" stroke="#ef5350" stroke-width="0.5"/>
<rect x="51.00" y="209.5" width="1.2" height="7.5" fill="#ef5350"/>
<line x1="53.10" y1="215.5" x2="53.10" y2="225.5" stroke="#ef5350" stroke-width="0.5"/>
<rect x="52.50" y="217.0" width="1.2" height="7.0" fill="#ef5350"/>
<line x1="54.70" y1="223.5" x2="54.70" y2="232.5" stroke="#ef5350" stroke-width="0.5"/>
<rect x="54.10" y="225.0" width="1.2" height="6.0" fill="#ef5350"/>
<line x1="56.30" y1="222.0" x2="56.30" y2="230.0" stroke="#26a69a" stroke-width="0.5"/>
<rect x="55.70" y="223.0" width="1.2" height="5.0" fill="#26a69a"/>
<line x1="57.90" y1="223.5" x2="57.90" y2="231.0" stroke="#ef5350" stroke-width="0.5"/>
<rect x="57.30" y="225.0" width="1.2" height="4.0" fill="#ef5350"/>
<line x1="59.40" y1="213.5" x2="59.40" y2="229.0" stroke="#26a69a" stroke-width="0.5"/>
<rect x="58.80" y="214.5" width="1.2" height="13.5" fill="#26a69a"/>
<line x1="61.00" y1="212.5" x2="61.00" y2="218.5" stroke="#26a69a" stroke-width="0.5"/>
<rect x="60.40" y="214.0" width="1.2" height="3.0" fill="#26a69a"/>
<line x1="62.60" y1="209.0" x2="62.60" y2="215.0" stroke="#26a69a" stroke-width="0.5"/>
<rect x="62.00" y="210.5" width="1.2" height="3.0" fill="#26a69a"/>
<line x1="64.20" y1="197.5" x2="64.20" y2="211.0" stroke="#ef5350" stroke-width="0.5"/>
<rect x="63.60" y="207.0" width="1.2" height="2.2" fill="#ef5350"/>
<line x1="65.70" y1="210.0" x2="65.70" y2="231.5" stroke="#ef5350" stroke-width="0.5"/>
<rect x="65.10" y="211.5" width="1.2" height="18.5" fill="#ef5350"/>
<line x1="67.30" y1="224.0" x2="67.30" y2="233.0" stroke="#26a69a" stroke-width="0.5"/>
<rect x="66.70" y="226.0" width="1.2" height="3.0" fill="#26a69a"/>
<line x1="68.90" y1="217.5" x2="68.90" y2="232.5" stroke="#26a69a" stroke-width="0.5"/>
<rect x="68.30" y="219.0" width="1.2" height="8.0" fill="#26a69a"/>
<line x1="70.50" y1="194.5" x2="70.50" y2="221.5" stroke="#ef5350" stroke-width="0.5"/>
<rect x="69.90" y="202.0" width="1.2" height="18.0" fill="#ef5350"/>
<line x1="72.00" y1="214.0" x2="72.00" y2="220.0" stroke="#26a69a" stroke-width="0.5"/>
<rect x="71.40" y="215.5" width="1.2" height="3.0" fill="#26a69a"/>
<line x1="73.60" y1="214.5" x2="73.60" y2="220.5" stroke="#ef5350" stroke-width="0.5"/>
<rect x="73.00" y="216.0" width="1.2" height="3.0" fill="#ef5350"/>
<line x1="75.20" y1="202.5" x2="75.20" y2="219.0" stroke="#ef5350" stroke-width="0.5"/>
<rect x="74.60" y="214.0" width="1.2" height="3.0" fill="#ef5350"/>
<line x1="76.70" y1="212.0" x2="76.70" y2="224.0" stroke="#ef5350" stroke-width="0.5"/>
<rect x="76.10" y="213.5" width="1.2" height="9.0" fill="#ef5350"/>
<line x1="78.30" y1="218.5" x2="78.30" y2="226.5" stroke="#26a69a" stroke-width="0.5"/>
<rect x="77.70" y="220.0" width="1.2" height="5.0" fill="#26a69a"/>
<line x1="79.87" y1="210.0" x2="79.87" y2="223.0" stroke="#26a69a" stroke-width="0.5"/>
<rect x="79.27" y="215.0" width="1.2" height="7.0" fill="#26a69a"/>
<line x1="81.44" y1="213.5" x2="81.44" y2="223.5" stroke="#ef5350" stroke-width="0.5"/>
<rect x="80.84" y="215.0" width="1.2" height="7.0" fill="#ef5350"/>
<line x1="83.01" y1="220.5" x2="83.01" y2="231.0" stroke="#26a69a" stroke-width="0.5"/>
<rect x="82.41" y="222.0" width="1.2" height="3.0" fill="#26a69a"/>
<line x1="84.58" y1="213.5" x2="84.58" y2="223.0" stroke="#26a69a" stroke-width="0.5"/>
<rect x="83.98" y="215.0" width="1.2" height="7.0" fill="#26a69a"/>
<line x1="86.15" y1="210.5" x2="86.15" y2="220.0" stroke="#26a69a" stroke-width="0.5"/>
<rect x="85.55" y="212.0" width="1.2" height="7.0" fill="#26a69a"/>
<line x1="87.72" y1="208.5" x2="87.72" y2="218.5" stroke="#ef5350" stroke-width="0.5"/>
<rect x="87.12" y="210.0" width="1.2" height="7.0" fill="#ef5350"/>
<line x1="89.29" y1="212.5" x2="89.29" y2="222.5" stroke="#ef5350" stroke-width="0.5"/>
<rect x="88.69" y="214.0" width="1.2" height="7.0" fill="#ef5350"/>
<line x1="90.86" y1="207.5" x2="90.86" y2="223.0" stroke="#26a69a" stroke-width="0.5"/>
<rect x="90.26" y="209.0" width="1.2" height="13.0" fill="#26a69a"/>
<line x1="92.43" y1="206.3" x2="92.43" y2="229.5" stroke="#ef5350" stroke-width="0.5"/>
<rect x="91.83" y="208.0" width="1.2" height="15.0" fill="#ef5350"/>
<line x1="94.00" y1="211.5" x2="94.00" y2="224.0" stroke="#26a69a" stroke-width="0.5"/>
<rect x="93.40" y="213.0" width="1.2" height="10.0" fill="#26a69a"/>
<line x1="95.57" y1="210.0" x2="95.57" y2="218.0" stroke="#ef5350" stroke-width="0.5"/>
<rect x="94.97" y="212.0" width="1.2" height="4.0" fill="#ef5350"/>
<line x1="97.14" y1="212.5" x2="97.14" y2="221.0" stroke="#ef5350" stroke-width="0.5"/>
<rect x="96.54" y="214.0" width="1.2" height="5.5" fill="#ef5350"/>
<line x1="98.71" y1="217.5" x2="98.71" y2="228.0" stroke="#ef5350" stroke-width="0.5"/>
<rect x="98.11" y="219.0" width="1.2" height="5.0" fill="#ef5350"/>
<line x1="100.28" y1="222.5" x2="100.28" y2="234.0" stroke="#ef5350" stroke-width="0.5"/>
<rect x="99.68" y="224.0" width="1.2" height="9.0" fill="#ef5350"/>
<line x1="101.85" y1="229.0" x2="101.85" y2="234.0" stroke="#ef5350" stroke-width="0.5"/>
<rect x="101.25" y="230.5" width="1.2" height="2.0" fill="#ef5350"/>
<line x1="103.42" y1="228.5" x2="103.42" y2="235.0" stroke="#26a69a" stroke-width="0.5"/>
<rect x="102.82" y="229.5" width="1.2" height="4.5" fill="#26a69a"/>
<line x1="104.99" y1="228.5" x2="104.99" y2="234.5" stroke="#ef5350" stroke-width="0.5"/>
<rect x="104.39" y="230.0" width="1.2" height="3.0" fill="#ef5350"/>
<line x1="106.56" y1="231.5" x2="106.56" y2="239.0" stroke="#ef5350" stroke-width="0.5"/>
<rect x="105.96" y="233.0" width="1.2" height="5.0" fill="#ef5350"/>
<line x1="425.62" y1="228.0" x2="425.62" y2="244.0" stroke="#26a69a" stroke-width="0.5"/>
<rect x="425.02" y="229.0" width="1.2" height="14.0" fill="#26a69a"/>
<line x1="427.19" y1="227.5" x2="427.19" y2="232.5" stroke="#ef5350" stroke-width="0.5"/>
<rect x="426.59" y="229.0" width="1.2" height="2.0" fill="#ef5350"/>
<line x1="428.76" y1="228.5" x2="428.76" y2="234.0" stroke="#ef5350" stroke-width="0.5"/>
<rect x="428.16" y="230.0" width="1.2" height="2.5" fill="#ef5350"/>
<line x1="430.33" y1="229.5" x2="430.33" y2="236.0" stroke="#ef5350" stroke-width="0.5"/>
<rect x="429.73" y="231.0" width="1.2" height="3.5" fill="#ef5350"/>
<line x1="431.90" y1="230.5" x2="431.90" y2="236.5" stroke="#26a69a" stroke-width="0.5"/>
<rect x="431.30" y="232.0" width="1.2" height="3.5" fill="#26a69a"/>
<line x1="433.47" y1="225.0" x2="433.47" y2="233.0" stroke="#26a69a" stroke-width="0.5"/>
<rect x="432.87" y="226.5" width="1.2" height="5.5" fill="#26a69a"/>
<line x1="435.04" y1="224.5" x2="435.04" y2="233.0" stroke="#ef5350" stroke-width="0.5"/>
<rect x="434.44" y="226.5" width="1.2" height="5.5" fill="#ef5350"/>
<line x1="436.61" y1="227.5" x2="436.61" y2="235.0" stroke="#ef5350" stroke-width="0.5"/>
<rect x="436.01" y="229.0" width="1.2" height="5.0" fill="#ef5350"/>
<line x1="438.18" y1="230.5" x2="438.18" y2="238.5" stroke="#ef5350" stroke-width="0.5"/>
<rect x="437.58" y="232.0" width="1.2" height="5.0" fill="#ef5350"/>
<line x1="439.75" y1="219.5" x2="439.75" y2="237.0" stroke="#26a69a" stroke-width="0.5"/>
<rect x="439.15" y="220.5" width="1.2" height="15.5" fill="#26a69a"/>
<line x1="441.32" y1="218.0" x2="441.32" y2="224.0" stroke="#26a69a" stroke-width="0.5"/>
<rect x="440.72" y="219.0" width="1.2" height="4.0" fill="#26a69a"/>
<line x1="442.89" y1="216.5" x2="442.89" y2="222.0" stroke="#26a69a" stroke-width="0.5"/>
<rect x="442.29" y="218.0" width="1.2" height="3.0" fill="#26a69a"/>
<line x1="444.46" y1="212.0" x2="444.46" y2="220.0" stroke="#26a69a" stroke-width="0.5"/>
<rect x="443.86" y="213.0" width="1.2" height="6.0" fill="#26a69a"/>
<line x1="446.03" y1="208.5" x2="446.03" y2="213.5" stroke="#ef5350" stroke-width="0.5"/>
<rect x="445.43" y="210.0" width="1.2" height="2.0" fill="#ef5350"/>
<line x1="447.60" y1="200.0" x2="447.60" y2="213.0" stroke="#26a69a" stroke-width="0.5"/>
<rect x="447.00" y="201.5" width="1.2" height="7.5" fill="#26a69a"/>
<line x1="449.17" y1="198.5" x2="449.17" y2="204.5" stroke="#ef5350" stroke-width="0.5"/>
<rect x="448.57" y="200.0" width="1.2" height="3.0" fill="#ef5350"/>
<line x1="450.74" y1="196.5" x2="450.74" y2="202.0" stroke="#26a69a" stroke-width="0.5"/>
<rect x="450.14" y="198.0" width="1.2" height="3.0" fill="#26a69a"/>
<line x1="452.31" y1="192.5" x2="452.31" y2="198.5" stroke="#ef5350" stroke-width="0.5"/>
<rect x="451.71" y="194.0" width="1.2" height="3.0" fill="#ef5350"/>
<line x1="453.88" y1="191.0" x2="453.88" y2="200.5" stroke="#ef5350" stroke-width="0.5"/>
<rect x="453.28" y="193.5" width="1.2" height="5.5" fill="#ef5350"/>
<line x1="455.45" y1="184.7" x2="455.45" y2="201.5" stroke="#ef5350" stroke-width="0.5"/>
<rect x="454.85" y="194.5" width="1.2" height="5.5" fill="#ef5350"/>
<line x1="457.02" y1="195.5" x2="457.02" y2="213.0" stroke="#ef5350" stroke-width="0.5"/>
<rect x="456.42" y="197.0" width="1.2" height="8.0" fill="#ef5350"/>
<line x1="458.59" y1="204.0" x2="458.59" y2="216.5" stroke="#26a69a" stroke-width="0.5"/>
<rect x="457.99" y="205.5" width="1.2" height="5.5" fill="#26a69a"/>
<line x1="460.16" y1="207.5" x2="460.16" y2="216.0" stroke="#ef5350" stroke-width="0.5"/>
<rect x="459.56" y="209.5" width="1.2" height="2.5" fill="#ef5350"/>
<line x1="461.73" y1="191.5" x2="461.73" y2="208.0" stroke="#26a69a" stroke-width="0.5"/>
<rect x="461.13" y="193.0" width="1.2" height="14.0" fill="#26a69a"/>
<line x1="463.40" y1="197.0" x2="463.40" y2="206.0" stroke="#ef5350" stroke-width="0.5"/>
<rect x="462.80" y="199.4" width="1.2" height="4.6" fill="#ef5350"/>
<line x1="464.90" y1="172.0" x2="464.90" y2="205.0" stroke="#26a69a" stroke-width="0.5"/>
<rect x="464.30" y="173.7" width="1.2" height="30.3" fill="#26a69a"/>
<line x1="466.50" y1="170.0" x2="466.50" y2="181.0" stroke="#ef5350" stroke-width="0.5"/>
<rect x="465.90" y="171.5" width="1.2" height="6.5" fill="#ef5350"/>
<line x1="468.00" y1="150.5" x2="468.00" y2="175.0" stroke="#26a69a" stroke-width="0.5"/>
<rect x="467.40" y="152.6" width="1.2" height="21.1" fill="#26a69a"/>
<line x1="469.60" y1="150.0" x2="469.60" y2="161.0" stroke="#26a69a" stroke-width="0.5"/>
<rect x="469.00" y="151.5" width="1.2" height="8.5" fill="#26a69a"/>
<line x1="471.20" y1="139.0" x2="471.20" y2="155.0" stroke="#26a69a" stroke-width="0.5"/>
<rect x="470.60" y="140.4" width="1.2" height="13.3" fill="#26a69a"/>
<line x1="472.80" y1="148.0" x2="472.80" y2="160.4" stroke="#ef5350" stroke-width="0.5"/>
<rect x="472.20" y="150.4" width="1.2" height="5.6" fill="#ef5350"/>
<line x1="474.30" y1="143.0" x2="474.30" y2="153.0" stroke="#26a69a" stroke-width="0.5"/>
<rect x="473.70" y="144.9" width="1.2" height="6.6" fill="#26a69a"/>
<line x1="475.90" y1="135.4" x2="475.90" y2="143.5" stroke="#ef5350" stroke-width="0.5"/>
<rect x="475.30" y="139.0" width="1.2" height="3.0" fill="#ef5350"/>
<line x1="477.40" y1="107.3" x2="477.40" y2="136.9" stroke="#26a69a" stroke-width="0.5"/>
<rect x="476.80" y="111.0" width="1.2" height="20.8" fill="#26a69a"/>
<line x1="479.00" y1="92.8" x2="479.00" y2="122.5" stroke="#ef5350" stroke-width="0.5"/>
<rect x="478.40" y="93.2" width="1.2" height="22.6" fill="#ef5350"/>
<circle cx="12.2" cy="297.5" r="5.4" fill="#f7f8fe" stroke="#5b7cf7" stroke-width="0.7"/>
<path d="M3.5,293.3 q0,-1.8 1.8,-1.8 h7.4 q1.8,0 1.8,1.8 v6.4 l-5.5,3.8 l-5.5,-3.8 z" fill="#fff7f7" stroke="#f04a58" stroke-width="0.75" stroke-linejoin="round"/>
<text x="9.0" y="299.6" font-size="6.8" fill="#f04a58" text-anchor="middle" font-weight="normal" stroke="#f04a58" stroke-width="0.25">E</text>
<circle cx="33.7" cy="297.5" r="5.4" fill="#f7f8fe" stroke="#5b7cf7" stroke-width="0.7"/>
<path d="M25.0,301.7 q0,1.8 1.8,1.8 h7.4 q1.8,0 1.8,-1.8 v-6.4 l-5.5,-3.8 l-5.5,3.8 z" fill="#f5fbf9" stroke="#3a9f83" stroke-width="0.75" stroke-linejoin="round"/>
<text x="30.5" y="300.7" font-size="6.8" fill="#3a9f83" text-anchor="middle" font-weight="normal" stroke="#3a9f83" stroke-width="0.25">E</text>
<circle cx="53.2" cy="297.5" r="5.4" fill="#f7f8fe" stroke="#5b7cf7" stroke-width="0.7"/>
<path d="M44.5,293.3 q0,-1.8 1.8,-1.8 h7.4 q1.8,0 1.8,1.8 v6.4 l-5.5,3.8 l-5.5,-3.8 z" fill="#fff7f7" stroke="#f04a58" stroke-width="0.75" stroke-linejoin="round"/>
<text x="50.0" y="299.6" font-size="6.8" fill="#f04a58" text-anchor="middle" font-weight="normal" stroke="#f04a58" stroke-width="0.25">E</text>
<circle cx="77.2" cy="297.5" r="5.4" fill="#f7f8fe" stroke="#5b7cf7" stroke-width="0.7"/>
<path d="M68.5,301.7 q0,1.8 1.8,1.8 h7.4 q1.8,0 1.8,-1.8 v-6.4 l-5.5,-3.8 l-5.5,3.8 z" fill="#f5fbf9" stroke="#3a9f83" stroke-width="0.75" stroke-linejoin="round"/>
<text x="74.0" y="300.7" font-size="6.8" fill="#3a9f83" text-anchor="middle" font-weight="normal" stroke="#3a9f83" stroke-width="0.25">E</text>
<circle cx="95.7" cy="297.5" r="5.4" fill="#f7f8fe" stroke="#5b7cf7" stroke-width="0.7"/>
<path d="M87.0,293.3 q0,-1.8 1.8,-1.8 h7.4 q1.8,0 1.8,1.8 v6.4 l-5.5,3.8 l-5.5,-3.8 z" fill="#fff7f7" stroke="#f04a58" stroke-width="0.75" stroke-linejoin="round"/>
<text x="92.5" y="299.6" font-size="6.8" fill="#f04a58" text-anchor="middle" font-weight="normal" stroke="#f04a58" stroke-width="0.25">E</text>
<circle cx="115.7" cy="297.5" r="5.4" fill="#f7f8fe" stroke="#5b7cf7" stroke-width="0.7"/>
<path d="M107.0,293.3 q0,-1.8 1.8,-1.8 h7.4 q1.8,0 1.8,1.8 v6.4 l-5.5,3.8 l-5.5,-3.8 z" fill="#fff7f7" stroke="#f04a58" stroke-width="0.75" stroke-linejoin="round"/>
<text x="112.5" y="299.6" font-size="6.8" fill="#f04a58" text-anchor="middle" font-weight="normal" stroke="#f04a58" stroke-width="0.25">E</text>
<circle cx="135.7" cy="297.5" r="5.4" fill="#f7f8fe" stroke="#5b7cf7" stroke-width="0.7"/>
<path d="M127.0,293.3 q0,-1.8 1.8,-1.8 h7.4 q1.8,0 1.8,1.8 v6.4 l-5.5,3.8 l-5.5,-3.8 z" fill="#fff7f7" stroke="#f04a58" stroke-width="0.75" stroke-linejoin="round"/>
<text x="132.5" y="299.6" font-size="6.8" fill="#f04a58" text-anchor="middle" font-weight="normal" stroke="#f04a58" stroke-width="0.25">E</text>
<circle cx="159.2" cy="297.5" r="5.4" fill="#f7f8fe" stroke="#5b7cf7" stroke-width="0.7"/>
<path d="M150.5,293.3 q0,-1.8 1.8,-1.8 h7.4 q1.8,0 1.8,1.8 v6.4 l-5.5,3.8 l-5.5,-3.8 z" fill="#fff7f7" stroke="#f04a58" stroke-width="0.75" stroke-linejoin="round"/>
<text x="156.0" y="299.6" font-size="6.8" fill="#f04a58" text-anchor="middle" font-weight="normal" stroke="#f04a58" stroke-width="0.25">E</text>
<circle cx="177.2" cy="297.5" r="5.4" fill="#f7f8fe" stroke="#5b7cf7" stroke-width="0.7"/>
<path d="M168.5,293.3 q0,-1.8 1.8,-1.8 h7.4 q1.8,0 1.8,1.8 v6.4 l-5.5,3.8 l-5.5,-3.8 z" fill="#fff7f7" stroke="#f04a58" stroke-width="0.75" stroke-linejoin="round"/>
<text x="174.0" y="299.6" font-size="6.8" fill="#f04a58" text-anchor="middle" font-weight="normal" stroke="#f04a58" stroke-width="0.25">E</text>
<circle cx="197.2" cy="297.5" r="5.4" fill="#f7f8fe" stroke="#5b7cf7" stroke-width="0.7"/>
<path d="M188.5,293.3 q0,-1.8 1.8,-1.8 h7.4 q1.8,0 1.8,1.8 v6.4 l-5.5,3.8 l-5.5,-3.8 z" fill="#fff7f7" stroke="#f04a58" stroke-width="0.75" stroke-linejoin="round"/>
<text x="194.0" y="299.6" font-size="6.8" fill="#f04a58" text-anchor="middle" font-weight="normal" stroke="#f04a58" stroke-width="0.25">E</text>
<circle cx="218.2" cy="297.5" r="5.4" fill="#f7f8fe" stroke="#5b7cf7" stroke-width="0.7"/>
<path d="M209.5,301.7 q0,1.8 1.8,1.8 h7.4 q1.8,0 1.8,-1.8 v-6.4 l-5.5,-3.8 l-5.5,3.8 z" fill="#f5fbf9" stroke="#3a9f83" stroke-width="0.75" stroke-linejoin="round"/>
<text x="215.0" y="300.7" font-size="6.8" fill="#3a9f83" text-anchor="middle" font-weight="normal" stroke="#3a9f83" stroke-width="0.25">E</text>
<circle cx="242.2" cy="297.5" r="5.4" fill="#f7f8fe" stroke="#5b7cf7" stroke-width="0.7"/>
<path d="M233.5,293.3 q0,-1.8 1.8,-1.8 h7.4 q1.8,0 1.8,1.8 v6.4 l-5.5,3.8 l-5.5,-3.8 z" fill="#fff7f7" stroke="#f04a58" stroke-width="0.75" stroke-linejoin="round"/>
<text x="239.0" y="299.6" font-size="6.8" fill="#f04a58" text-anchor="middle" font-weight="normal" stroke="#f04a58" stroke-width="0.25">E</text>
<circle cx="259.2" cy="297.5" r="5.4" fill="#f7f8fe" stroke="#5b7cf7" stroke-width="0.7"/>
<path d="M250.5,301.7 q0,1.8 1.8,1.8 h7.4 q1.8,0 1.8,-1.8 v-6.4 l-5.5,-3.8 l-5.5,3.8 z" fill="#f5fbf9" stroke="#3a9f83" stroke-width="0.75" stroke-linejoin="round"/>
<text x="256.0" y="300.7" font-size="6.8" fill="#3a9f83" text-anchor="middle" font-weight="normal" stroke="#3a9f83" stroke-width="0.25">E</text>
<circle cx="279.7" cy="297.5" r="5.4" fill="#f7f8fe" stroke="#5b7cf7" stroke-width="0.7"/>
<path d="M271.0,293.3 q0,-1.8 1.8,-1.8 h7.4 q1.8,0 1.8,1.8 v6.4 l-5.5,3.8 l-5.5,-3.8 z" fill="#fff7f7" stroke="#f04a58" stroke-width="0.75" stroke-linejoin="round"/>
<text x="276.5" y="299.6" font-size="6.8" fill="#f04a58" text-anchor="middle" font-weight="normal" stroke="#f04a58" stroke-width="0.25">E</text>
<circle cx="299.7" cy="297.5" r="5.4" fill="#f7f8fe" stroke="#5b7cf7" stroke-width="0.7"/>
<path d="M291.0,293.3 q0,-1.8 1.8,-1.8 h7.4 q1.8,0 1.8,1.8 v6.4 l-5.5,3.8 l-5.5,-3.8 z" fill="#fff7f7" stroke="#f04a58" stroke-width="0.75" stroke-linejoin="round"/>
<text x="296.5" y="299.6" font-size="6.8" fill="#f04a58" text-anchor="middle" font-weight="normal" stroke="#f04a58" stroke-width="0.25">E</text>
<circle cx="323.7" cy="297.5" r="5.4" fill="#f7f8fe" stroke="#5b7cf7" stroke-width="0.7"/>
<path d="M315.0,293.3 q0,-1.8 1.8,-1.8 h7.4 q1.8,0 1.8,1.8 v6.4 l-5.5,3.8 l-5.5,-3.8 z" fill="#fff7f7" stroke="#f04a58" stroke-width="0.75" stroke-linejoin="round"/>
<text x="320.5" y="299.6" font-size="6.8" fill="#f04a58" text-anchor="middle" font-weight="normal" stroke="#f04a58" stroke-width="0.25">E</text>
<circle cx="340.7" cy="297.5" r="5.4" fill="#f7f8fe" stroke="#5b7cf7" stroke-width="0.7"/>
<path d="M332.0,301.7 q0,1.8 1.8,1.8 h7.4 q1.8,0 1.8,-1.8 v-6.4 l-5.5,-3.8 l-5.5,3.8 z" fill="#f5fbf9" stroke="#3a9f83" stroke-width="0.75" stroke-linejoin="round"/>
<text x="337.5" y="300.7" font-size="6.8" fill="#3a9f83" text-anchor="middle" font-weight="normal" stroke="#3a9f83" stroke-width="0.25">E</text>
<circle cx="359.7" cy="297.5" r="5.4" fill="#f7f8fe" stroke="#5b7cf7" stroke-width="0.7"/>
<path d="M351.0,293.3 q0,-1.8 1.8,-1.8 h7.4 q1.8,0 1.8,1.8 v6.4 l-5.5,3.8 l-5.5,-3.8 z" fill="#fff7f7" stroke="#f04a58" stroke-width="0.75" stroke-linejoin="round"/>
<text x="356.5" y="299.6" font-size="6.8" fill="#f04a58" text-anchor="middle" font-weight="normal" stroke="#f04a58" stroke-width="0.25">E</text>
<circle cx="381.7" cy="297.5" r="5.4" fill="#f7f8fe" stroke="#5b7cf7" stroke-width="0.7"/>
<path d="M373.0,301.7 q0,1.8 1.8,1.8 h7.4 q1.8,0 1.8,-1.8 v-6.4 l-5.5,-3.8 l-5.5,3.8 z" fill="#f5fbf9" stroke="#3a9f83" stroke-width="0.75" stroke-linejoin="round"/>
<text x="378.5" y="300.7" font-size="6.8" fill="#3a9f83" text-anchor="middle" font-weight="normal" stroke="#3a9f83" stroke-width="0.25">E</text>
<circle cx="405.7" cy="297.5" r="5.4" fill="#f7f8fe" stroke="#5b7cf7" stroke-width="0.7"/>
<path d="M397.0,293.3 q0,-1.8 1.8,-1.8 h7.4 q1.8,0 1.8,1.8 v6.4 l-5.5,3.8 l-5.5,-3.8 z" fill="#fff7f7" stroke="#f04a58" stroke-width="0.75" stroke-linejoin="round"/>
<text x="402.5" y="299.6" font-size="6.8" fill="#f04a58" text-anchor="middle" font-weight="normal" stroke="#f04a58" stroke-width="0.25">E</text>
<circle cx="423.2" cy="297.5" r="5.4" fill="#f7f8fe" stroke="#5b7cf7" stroke-width="0.7"/>
<path d="M414.5,301.7 q0,1.8 1.8,1.8 h7.4 q1.8,0 1.8,-1.8 v-6.4 l-5.5,-3.8 l-5.5,3.8 z" fill="#f5fbf9" stroke="#3a9f83" stroke-width="0.75" stroke-linejoin="round"/>
<text x="420.0" y="300.7" font-size="6.8" fill="#3a9f83" text-anchor="middle" font-weight="normal" stroke="#3a9f83" stroke-width="0.25">E</text>
<circle cx="443.2" cy="297.5" r="5.4" fill="#f7f8fe" stroke="#5b7cf7" stroke-width="0.7"/>
<path d="M434.5,301.7 q0,1.8 1.8,1.8 h7.4 q1.8,0 1.8,-1.8 v-6.4 l-5.5,-3.8 l-5.5,3.8 z" fill="#f5fbf9" stroke="#3a9f83" stroke-width="0.75" stroke-linejoin="round"/>
<text x="440.0" y="300.7" font-size="6.8" fill="#3a9f83" text-anchor="middle" font-weight="normal" stroke="#3a9f83" stroke-width="0.25">E</text>
<circle cx="464.7" cy="297.5" r="5.4" fill="#f7f8fe" stroke="#5b7cf7" stroke-width="0.7"/>
<path d="M456.0,293.3 q0,-1.8 1.8,-1.8 h7.4 q1.8,0 1.8,1.8 v6.4 l-5.5,3.8 l-5.5,-3.8 z" fill="#fff7f7" stroke="#f04a58" stroke-width="0.75" stroke-linejoin="round"/>
<text x="461.5" y="299.6" font-size="6.8" fill="#f04a58" text-anchor="middle" font-weight="normal" stroke="#f04a58" stroke-width="0.25">E</text>
<circle cx="249" cy="297.5" r="5.4" fill="none" stroke="#5b7cf7" stroke-width="0.7"/>
<rect x="478.4" y="292.2" width="10.6" height="10.8" fill="#fef6ff" stroke="#e252fb" stroke-width="0.75"/>
<text x="483.7" y="300.1" font-size="6.8" fill="#e252fb" text-anchor="middle" font-weight="normal" stroke="#e252fb" stroke-width="0.25">E</text>
</g>
<text x="508" y="44.3" font-size="7" fill="#a6a6a6" text-anchor="start" font-weight="normal" textLength="31.5" lengthAdjust="spacingAndGlyphs" >2 (82,82)</text>
<text x="508" y="94" font-size="7" fill="#f6a15e" text-anchor="start" font-weight="normal" textLength="47" lengthAdjust="spacingAndGlyphs" >1,618 (68,03)</text>
<text x="508" y="125.2" font-size="7" fill="#f3848a" text-anchor="start" font-weight="normal" textLength="47" lengthAdjust="spacingAndGlyphs" >1,382 (58,89)</text>
<text x="508" y="175.2" font-size="7" fill="#a6a6a6" text-anchor="start" font-weight="normal" textLength="31.5" lengthAdjust="spacingAndGlyphs" >1 (44,10)</text>
<text x="508" y="224.6" font-size="7" fill="#a6a6a6" text-anchor="start" font-weight="normal" textLength="47" lengthAdjust="spacingAndGlyphs" >0,618 (29,31)</text>
<text x="508" y="255.6" font-size="7" fill="#a6a6a6" text-anchor="start" font-weight="normal" textLength="47" lengthAdjust="spacingAndGlyphs" >0,382 (20,17)</text>
<g clip-path="url(#cMain)">
<text x="508" y="305.3" font-size="7" fill="#a6a6a6" text-anchor="start" font-weight="normal" textLength="28" lengthAdjust="spacingAndGlyphs" >0 (5,38)</text>
</g>
<text x="11" y="30" font-size="7" fill="#363a45" text-anchor="start" font-weight="normal" textLength="80" lengthAdjust="spacingAndGlyphs" >MACD (close, 12, 26, 9)</text>
<text x="95.5" y="30" font-size="7" fill="#26a69a" text-anchor="start" font-weight="normal" textLength="13.5" lengthAdjust="spacingAndGlyphs" >1,74</text>
<text x="113" y="30" font-size="7" fill="#4a6cf7" text-anchor="start" font-weight="normal" textLength="14" lengthAdjust="spacingAndGlyphs" >7,52</text>
<text x="131.5" y="30" font-size="7" fill="#fb7044" text-anchor="start" font-weight="normal" textLength="14" lengthAdjust="spacingAndGlyphs" >5,78</text>
<text x="11" y="49.5" font-size="7" fill="#363a45" text-anchor="start" font-weight="normal" textLength="95.5" lengthAdjust="spacingAndGlyphs" >EMA (200, close, 0, SMA, 5)</text>
<text x="110.5" y="49.5" font-size="7" fill="#f23645" text-anchor="start" font-weight="normal" textLength="19.5" lengthAdjust="spacingAndGlyphs" >26,33</text>
<text x="11" y="60.5" font-size="7" fill="#363a45" text-anchor="start" font-weight="normal" textLength="91" lengthAdjust="spacingAndGlyphs" >EMA (50, close, 0, SMA, 5)</text>
<text x="106" y="60.5" font-size="7" fill="#4a6cf7" text-anchor="start" font-weight="normal" textLength="19.5" lengthAdjust="spacingAndGlyphs" >37,93</text>
<text x="15" y="188.7" font-size="7" fill="#5b7cf7" text-anchor="start" font-weight="normal" textLength="20.5" lengthAdjust="spacingAndGlyphs" >40,11</text>
<g clip-path="url(#cMacd)">
<line x1="6.5" y1="345.4" x2="557.5" y2="345.4" stroke="#a4a4a4" stroke-width="0.7" stroke-dasharray="3.5 3.2"/>
<rect x="6.30" y="344.83" width="1.2" height="0.57" fill="#26a69a"/>
<rect x="7.87" y="343.82" width="1.2" height="1.58" fill="#26a69a"/>
<rect x="9.44" y="342.74" width="1.2" height="2.66" fill="#26a69a"/>
<rect x="11.01" y="342.49" width="1.2" height="2.91" fill="#26a69a"/>
<rect x="12.58" y="342.39" width="1.2" height="3.01" fill="#26a69a"/>
<rect x="14.15" y="342.06" width="1.2" height="3.34" fill="#26a69a"/>
<rect x="15.72" y="342.49" width="1.2" height="2.91" fill="#b2dfdb"/>
<rect x="17.29" y="342.70" width="1.2" height="2.70" fill="#b2dfdb"/>
<rect x="18.86" y="342.66" width="1.2" height="2.74" fill="#26a69a"/>
<rect x="20.43" y="342.48" width="1.2" height="2.92" fill="#26a69a"/>
<rect x="22.00" y="342.29" width="1.2" height="3.11" fill="#26a69a"/>
<rect x="23.57" y="341.79" width="1.2" height="3.61" fill="#26a69a"/>
<rect x="25.14" y="341.18" width="1.2" height="4.22" fill="#26a69a"/>
<rect x="26.71" y="340.40" width="1.2" height="5.00" fill="#26a69a"/>
<rect x="28.28" y="340.53" width="1.2" height="4.87" fill="#b2dfdb"/>
<rect x="29.85" y="341.66" width="1.2" height="3.74" fill="#b2dfdb"/>
<rect x="31.42" y="342.76" width="1.2" height="2.64" fill="#b2dfdb"/>
<rect x="32.98" y="343.75" width="1.2" height="1.65" fill="#b2dfdb"/>
<rect x="34.55" y="344.63" width="1.2" height="0.77" fill="#b2dfdb"/>
<rect x="37.69" y="345.40" width="1.2" height="1.14" fill="#ff5252"/>
<rect x="39.26" y="345.40" width="1.2" height="1.62" fill="#ff5252"/>
<rect x="40.83" y="345.40" width="1.2" height="1.65" fill="#ff5252"/>
<rect x="42.40" y="345.40" width="1.2" height="1.70" fill="#ff5252"/>
<rect x="43.97" y="345.40" width="1.2" height="2.03" fill="#ff5252"/>
<rect x="45.54" y="345.40" width="1.2" height="2.54" fill="#ff5252"/>
<rect x="47.11" y="345.40" width="1.2" height="3.08" fill="#ff5252"/>
<rect x="48.68" y="345.40" width="1.2" height="2.38" fill="#ffcdd2"/>
<rect x="50.25" y="345.40" width="1.2" height="1.56" fill="#ffcdd2"/>
<rect x="51.82" y="345.40" width="1.2" height="2.15" fill="#ff5252"/>
<rect x="53.39" y="345.40" width="1.2" height="2.70" fill="#ff5252"/>
<rect x="54.96" y="345.40" width="1.2" height="3.22" fill="#ff5252"/>
<rect x="56.53" y="345.40" width="1.2" height="2.91" fill="#ffcdd2"/>
<rect x="58.10" y="345.40" width="1.2" height="2.54" fill="#ffcdd2"/>
<rect x="59.67" y="345.40" width="1.2" height="1.33" fill="#ffcdd2"/>
<rect x="61.24" y="345.40" width="1.2" height="0.40" fill="#ffcdd2"/>
<rect x="64.38" y="345.40" width="1.2" height="0.83" fill="#ff5252"/>
<rect x="65.95" y="345.40" width="1.2" height="1.30" fill="#ff5252"/>
<rect x="67.52" y="345.40" width="1.2" height="1.15" fill="#ffcdd2"/>
<rect x="69.09" y="345.40" width="1.2" height="1.08" fill="#ffcdd2"/>
<rect x="70.66" y="345.40" width="1.2" height="0.81" fill="#ffcdd2"/>
<rect x="72.23" y="345.40" width="1.2" height="0.48" fill="#ffcdd2"/>
<rect x="81.65" y="345.40" width="1.2" height="0.33" fill="#ff5252"/>
<rect x="83.22" y="345.40" width="1.2" height="0.43" fill="#ff5252"/>
<rect x="84.79" y="345.40" width="1.2" height="0.44" fill="#ff5252"/>
<rect x="89.49" y="345.11" width="1.2" height="0.29" fill="#26a69a"/>
<rect x="95.77" y="345.40" width="1.2" height="0.32" fill="#ff5252"/>
<rect x="97.34" y="345.40" width="1.2" height="0.69" fill="#ff5252"/>
<rect x="98.91" y="345.40" width="1.2" height="1.10" fill="#ff5252"/>
<rect x="100.48" y="345.40" width="1.2" height="1.51" fill="#ff5252"/>
<rect x="102.05" y="345.40" width="1.2" height="1.71" fill="#ff5252"/>
<rect x="103.62" y="345.40" width="1.2" height="1.90" fill="#ff5252"/>
<rect x="105.19" y="345.40" width="1.2" height="1.97" fill="#ff5252"/>
<rect x="106.76" y="345.40" width="1.2" height="1.91" fill="#ffcdd2"/>
<rect x="108.33" y="345.40" width="1.2" height="1.84" fill="#ffcdd2"/>
<rect x="109.90" y="345.40" width="1.2" height="1.76" fill="#ffcdd2"/>
<rect x="111.47" y="345.40" width="1.2" height="1.64" fill="#ffcdd2"/>
<rect x="113.04" y="345.40" width="1.2" height="1.53" fill="#ffcdd2"/>
<rect x="114.61" y="345.40" width="1.2" height="1.65" fill="#ff5252"/>
<rect x="116.18" y="345.40" width="1.2" height="1.85" fill="#ff5252"/>
<rect x="117.75" y="345.40" width="1.2" height="1.90" fill="#ff5252"/>
<rect x="119.32" y="345.40" width="1.2" height="1.47" fill="#ffcdd2"/>
<rect x="120.89" y="345.40" width="1.2" height="1.16" fill="#ffcdd2"/>
<rect x="122.46" y="345.40" width="1.2" height="0.99" fill="#ffcdd2"/>
<rect x="124.03" y="345.40" width="1.2" height="0.59" fill="#ffcdd2"/>
<rect x="128.74" y="345.06" width="1.2" height="0.34" fill="#26a69a"/>
<rect x="130.31" y="344.75" width="1.2" height="0.65" fill="#26a69a"/>
<rect x="131.88" y="344.07" width="1.2" height="1.33" fill="#26a69a"/>
<rect x="133.45" y="343.48" width="1.2" height="1.92" fill="#26a69a"/>
<rect x="135.02" y="342.89" width="1.2" height="2.51" fill="#26a69a"/>
<rect x="136.59" y="343.50" width="1.2" height="1.90" fill="#b2dfdb"/>
<rect x="138.15" y="344.26" width="1.2" height="1.14" fill="#b2dfdb"/>
<rect x="139.72" y="344.95" width="1.2" height="0.45" fill="#b2dfdb"/>
<rect x="150.71" y="345.40" width="1.2" height="0.43" fill="#ff5252"/>
<rect x="152.28" y="345.40" width="1.2" height="0.77" fill="#ff5252"/>
<rect x="155.42" y="345.03" width="1.2" height="0.37" fill="#26a69a"/>
<rect x="156.99" y="344.43" width="1.2" height="0.97" fill="#26a69a"/>
<rect x="158.56" y="343.82" width="1.2" height="1.58" fill="#26a69a"/>
<rect x="160.13" y="343.36" width="1.2" height="2.04" fill="#26a69a"/>
<rect x="161.70" y="343.00" width="1.2" height="2.40" fill="#26a69a"/>
<rect x="163.27" y="342.72" width="1.2" height="2.68" fill="#26a69a"/>
<rect x="164.84" y="342.70" width="1.2" height="2.70" fill="#26a69a"/>
<rect x="166.41" y="343.06" width="1.2" height="2.34" fill="#b2dfdb"/>
<rect x="167.98" y="343.22" width="1.2" height="2.18" fill="#b2dfdb"/>
<rect x="169.55" y="344.04" width="1.2" height="1.36" fill="#b2dfdb"/>
<rect x="172.69" y="345.40" width="1.2" height="1.02" fill="#ff5252"/>
<rect x="174.26" y="345.40" width="1.2" height="1.40" fill="#ff5252"/>
<rect x="175.83" y="345.40" width="1.2" height="1.72" fill="#ff5252"/>
<rect x="177.40" y="345.40" width="1.2" height="2.04" fill="#ff5252"/>
<rect x="178.97" y="345.40" width="1.2" height="2.25" fill="#ff5252"/>
<rect x="180.54" y="345.40" width="1.2" height="2.35" fill="#ff5252"/>
<rect x="182.11" y="345.40" width="1.2" height="2.45" fill="#ff5252"/>
<rect x="183.68" y="345.40" width="1.2" height="2.55" fill="#ff5252"/>
<rect x="185.25" y="345.40" width="1.2" height="2.69" fill="#ff5252"/>
<rect x="186.82" y="345.40" width="1.2" height="2.91" fill="#ff5252"/>
<rect x="188.39" y="345.40" width="1.2" height="2.97" fill="#ff5252"/>
<rect x="189.95" y="345.40" width="1.2" height="3.04" fill="#ff5252"/>
<rect x="191.52" y="345.40" width="1.2" height="3.09" fill="#ff5252"/>
<rect x="193.09" y="345.40" width="1.2" height="3.12" fill="#ff5252"/>
<rect x="194.66" y="345.40" width="1.2" height="3.08" fill="#ffcdd2"/>
<rect x="196.23" y="345.40" width="1.2" height="2.77" fill="#ffcdd2"/>
<rect x="197.80" y="345.40" width="1.2" height="2.53" fill="#ffcdd2"/>
<rect x="199.37" y="345.40" width="1.2" height="2.28" fill="#ffcdd2"/>
<rect x="200.94" y="345.40" width="1.2" height="2.04" fill="#ffcdd2"/>
<rect x="202.51" y="345.40" width="1.2" height="1.79" fill="#ffcdd2"/>
<rect x="204.08" y="345.40" width="1.2" height="1.55" fill="#ffcdd2"/>
<rect x="205.65" y="345.40" width="1.2" height="1.27" fill="#ffcdd2"/>
<rect x="207.22" y="345.40" width="1.2" height="0.97" fill="#ffcdd2"/>
<rect x="208.79" y="345.40" width="1.2" height="0.68" fill="#ffcdd2"/>
<rect x="210.36" y="345.40" width="1.2" height="0.38" fill="#ffcdd2"/>
<rect x="215.07" y="344.88" width="1.2" height="0.52" fill="#26a69a"/>
<rect x="216.64" y="344.57" width="1.2" height="0.83" fill="#26a69a"/>
<rect x="218.21" y="344.26" width="1.2" height="1.14" fill="#26a69a"/>
<rect x="219.78" y="344.01" width="1.2" height="1.39" fill="#26a69a"/>
<rect x="221.35" y="343.83" width="1.2" height="1.57" fill="#26a69a"/>
<rect x="222.92" y="343.85" width="1.2" height="1.55" fill="#b2dfdb"/>
<rect x="224.49" y="343.88" width="1.2" height="1.52" fill="#b2dfdb"/>
<rect x="226.06" y="343.89" width="1.2" height="1.51" fill="#b2dfdb"/>
<rect x="227.63" y="343.78" width="1.2" height="1.62" fill="#26a69a"/>
<rect x="229.20" y="343.67" width="1.2" height="1.73" fill="#26a69a"/>
<rect x="230.77" y="343.56" width="1.2" height="1.84" fill="#26a69a"/>
<rect x="232.34" y="343.45" width="1.2" height="1.95" fill="#26a69a"/>
<rect x="233.91" y="344.01" width="1.2" height="1.39" fill="#b2dfdb"/>
<rect x="235.48" y="344.35" width="1.2" height="1.05" fill="#b2dfdb"/>
<rect x="237.05" y="344.56" width="1.2" height="0.84" fill="#b2dfdb"/>
<rect x="238.62" y="344.78" width="1.2" height="0.62" fill="#b2dfdb"/>
<rect x="240.19" y="345.00" width="1.2" height="0.40" fill="#b2dfdb"/>
<rect x="241.76" y="344.89" width="1.2" height="0.51" fill="#26a69a"/>
<rect x="243.32" y="344.50" width="1.2" height="0.90" fill="#26a69a"/>
<rect x="244.89" y="344.16" width="1.2" height="1.24" fill="#26a69a"/>
<rect x="246.46" y="343.81" width="1.2" height="1.59" fill="#26a69a"/>
<rect x="248.03" y="343.75" width="1.2" height="1.65" fill="#26a69a"/>
<rect x="249.60" y="344.13" width="1.2" height="1.27" fill="#b2dfdb"/>
<rect x="251.17" y="344.51" width="1.2" height="0.89" fill="#b2dfdb"/>
<rect x="252.74" y="344.67" width="1.2" height="0.73" fill="#b2dfdb"/>
<rect x="254.31" y="344.83" width="1.2" height="0.57" fill="#b2dfdb"/>
<rect x="259.02" y="345.40" width="1.2" height="0.58" fill="#ff5252"/>
<rect x="260.59" y="345.40" width="1.2" height="0.92" fill="#ff5252"/>
<rect x="262.16" y="345.40" width="1.2" height="1.11" fill="#ff5252"/>
<rect x="263.73" y="345.40" width="1.2" height="1.13" fill="#ff5252"/>
<rect x="265.30" y="345.40" width="1.2" height="1.12" fill="#ffcdd2"/>
<rect x="266.87" y="345.40" width="1.2" height="1.11" fill="#ffcdd2"/>
<rect x="268.44" y="345.40" width="1.2" height="1.10" fill="#ffcdd2"/>
<rect x="270.01" y="345.40" width="1.2" height="0.89" fill="#ffcdd2"/>
<rect x="271.58" y="345.40" width="1.2" height="0.60" fill="#ffcdd2"/>
<rect x="273.15" y="345.40" width="1.2" height="0.30" fill="#ffcdd2"/>
<rect x="276.29" y="345.11" width="1.2" height="0.29" fill="#26a69a"/>
<rect x="277.86" y="344.84" width="1.2" height="0.56" fill="#26a69a"/>
<rect x="279.43" y="344.64" width="1.2" height="0.76" fill="#26a69a"/>
<rect x="281.00" y="344.58" width="1.2" height="0.82" fill="#26a69a"/>
<rect x="282.57" y="344.53" width="1.2" height="0.87" fill="#26a69a"/>
<rect x="284.14" y="344.49" width="1.2" height="0.91" fill="#26a69a"/>
<rect x="285.71" y="344.45" width="1.2" height="0.95" fill="#26a69a"/>
<rect x="287.28" y="344.40" width="1.2" height="1.00" fill="#26a69a"/>
<rect x="288.85" y="344.55" width="1.2" height="0.85" fill="#b2dfdb"/>
<rect x="290.42" y="344.96" width="1.2" height="0.44" fill="#b2dfdb"/>
<rect x="296.69" y="345.40" width="1.2" height="0.41" fill="#ff5252"/>
<rect x="299.83" y="345.03" width="1.2" height="0.37" fill="#26a69a"/>
<rect x="301.40" y="344.65" width="1.2" height="0.75" fill="#26a69a"/>
<rect x="302.97" y="344.42" width="1.2" height="0.98" fill="#26a69a"/>
<rect x="304.54" y="344.18" width="1.2" height="1.22" fill="#26a69a"/>
<rect x="306.11" y="344.25" width="1.2" height="1.15" fill="#b2dfdb"/>
<rect x="307.68" y="344.69" width="1.2" height="0.71" fill="#b2dfdb"/>
<rect x="309.25" y="345.13" width="1.2" height="0.27" fill="#b2dfdb"/>
<rect x="315.53" y="345.40" width="1.2" height="0.34" fill="#ff5252"/>
<rect x="317.10" y="345.40" width="1.2" height="0.48" fill="#ff5252"/>
<rect x="318.67" y="345.40" width="1.2" height="0.65" fill="#ff5252"/>
<rect x="320.24" y="345.40" width="1.2" height="0.96" fill="#ff5252"/>
<rect x="321.81" y="345.40" width="1.2" height="1.04" fill="#ff5252"/>
<rect x="323.38" y="345.40" width="1.2" height="0.41" fill="#ffcdd2"/>
<rect x="326.52" y="344.55" width="1.2" height="0.85" fill="#26a69a"/>
<rect x="328.09" y="343.88" width="1.2" height="1.52" fill="#26a69a"/>
<rect x="329.66" y="343.20" width="1.2" height="2.20" fill="#26a69a"/>
<rect x="331.23" y="342.51" width="1.2" height="2.89" fill="#26a69a"/>
<rect x="332.80" y="341.93" width="1.2" height="3.47" fill="#26a69a"/>
<rect x="334.37" y="341.66" width="1.2" height="3.74" fill="#26a69a"/>
<rect x="335.94" y="341.60" width="1.2" height="3.80" fill="#26a69a"/>
<rect x="337.51" y="341.63" width="1.2" height="3.77" fill="#b2dfdb"/>
<rect x="339.08" y="341.65" width="1.2" height="3.75" fill="#b2dfdb"/>
<rect x="340.65" y="341.67" width="1.2" height="3.73" fill="#b2dfdb"/>
<rect x="342.22" y="342.33" width="1.2" height="3.07" fill="#b2dfdb"/>
<rect x="343.79" y="343.07" width="1.2" height="2.33" fill="#b2dfdb"/>
<rect x="345.36" y="343.78" width="1.2" height="1.62" fill="#b2dfdb"/>
<rect x="346.92" y="344.34" width="1.2" height="1.06" fill="#b2dfdb"/>
<rect x="348.49" y="344.37" width="1.2" height="1.03" fill="#b2dfdb"/>
<rect x="350.06" y="344.39" width="1.2" height="1.01" fill="#b2dfdb"/>
<rect x="351.63" y="344.20" width="1.2" height="1.20" fill="#26a69a"/>
<rect x="353.20" y="343.81" width="1.2" height="1.59" fill="#26a69a"/>
<rect x="354.77" y="344.36" width="1.2" height="1.04" fill="#b2dfdb"/>
<rect x="356.34" y="344.92" width="1.2" height="0.48" fill="#b2dfdb"/>
<rect x="359.48" y="345.40" width="1.2" height="0.61" fill="#ff5252"/>
<rect x="361.05" y="345.40" width="1.2" height="0.80" fill="#ff5252"/>
<rect x="362.62" y="345.40" width="1.2" height="0.99" fill="#ff5252"/>
<rect x="364.19" y="345.40" width="1.2" height="1.17" fill="#ff5252"/>
<rect x="365.76" y="345.40" width="1.2" height="1.36" fill="#ff5252"/>
<rect x="367.33" y="345.40" width="1.2" height="0.94" fill="#ffcdd2"/>
<rect x="368.90" y="345.40" width="1.2" height="0.55" fill="#ffcdd2"/>
<rect x="370.47" y="345.40" width="1.2" height="0.27" fill="#ffcdd2"/>
<rect x="373.61" y="345.12" width="1.2" height="0.28" fill="#26a69a"/>
<rect x="375.18" y="345.08" width="1.2" height="0.32" fill="#26a69a"/>
<rect x="383.03" y="345.40" width="1.2" height="0.32" fill="#ff5252"/>
<rect x="384.60" y="345.40" width="1.2" height="0.58" fill="#ff5252"/>
<rect x="386.17" y="345.40" width="1.2" height="0.84" fill="#ff5252"/>
<rect x="387.74" y="345.40" width="1.2" height="1.08" fill="#ff5252"/>
<rect x="389.31" y="345.40" width="1.2" height="1.31" fill="#ff5252"/>
<rect x="390.88" y="345.40" width="1.2" height="1.28" fill="#ffcdd2"/>
<rect x="392.45" y="345.40" width="1.2" height="1.19" fill="#ffcdd2"/>
<rect x="394.02" y="345.40" width="1.2" height="1.07" fill="#ffcdd2"/>
<rect x="395.59" y="345.40" width="1.2" height="0.61" fill="#ffcdd2"/>
<rect x="398.72" y="345.09" width="1.2" height="0.31" fill="#26a69a"/>
<rect x="400.29" y="344.64" width="1.2" height="0.76" fill="#26a69a"/>
<rect x="401.86" y="344.33" width="1.2" height="1.07" fill="#26a69a"/>
<rect x="403.43" y="344.16" width="1.2" height="1.24" fill="#26a69a"/>
<rect x="405.00" y="344.04" width="1.2" height="1.36" fill="#26a69a"/>
<rect x="406.57" y="343.92" width="1.2" height="1.48" fill="#26a69a"/>
<rect x="408.14" y="344.12" width="1.2" height="1.28" fill="#b2dfdb"/>
<rect x="409.71" y="344.38" width="1.2" height="1.02" fill="#b2dfdb"/>
<rect x="411.28" y="344.60" width="1.2" height="0.80" fill="#b2dfdb"/>
<rect x="412.85" y="344.60" width="1.2" height="0.80" fill="#b2dfdb"/>
<rect x="414.42" y="344.60" width="1.2" height="0.80" fill="#b2dfdb"/>
<rect x="415.99" y="344.74" width="1.2" height="0.66" fill="#b2dfdb"/>
<rect x="417.56" y="345.10" width="1.2" height="0.30" fill="#b2dfdb"/>
<rect x="420.70" y="345.40" width="1.2" height="0.53" fill="#ff5252"/>
<rect x="422.27" y="345.40" width="1.2" height="0.85" fill="#ff5252"/>
<rect x="423.84" y="345.40" width="1.2" height="0.53" fill="#ffcdd2"/>
<rect x="428.55" y="344.97" width="1.2" height="0.43" fill="#26a69a"/>
<rect x="430.12" y="344.59" width="1.2" height="0.81" fill="#26a69a"/>
<rect x="431.69" y="344.12" width="1.2" height="1.28" fill="#26a69a"/>
<rect x="433.26" y="344.04" width="1.2" height="1.36" fill="#26a69a"/>
<rect x="434.83" y="344.28" width="1.2" height="1.12" fill="#b2dfdb"/>
<rect x="436.40" y="344.52" width="1.2" height="0.88" fill="#b2dfdb"/>
<rect x="437.97" y="344.76" width="1.2" height="0.64" fill="#b2dfdb"/>
<rect x="439.54" y="344.46" width="1.2" height="0.94" fill="#26a69a"/>
<rect x="441.11" y="344.07" width="1.2" height="1.33" fill="#26a69a"/>
<rect x="442.68" y="343.78" width="1.2" height="1.62" fill="#26a69a"/>
<rect x="444.25" y="343.52" width="1.2" height="1.88" fill="#26a69a"/>
<rect x="445.82" y="343.21" width="1.2" height="2.19" fill="#26a69a"/>
<rect x="447.39" y="342.90" width="1.2" height="2.50" fill="#26a69a"/>
<rect x="448.96" y="342.60" width="1.2" height="2.80" fill="#26a69a"/>
<rect x="450.53" y="342.29" width="1.2" height="3.11" fill="#26a69a"/>
<rect x="452.09" y="342.42" width="1.2" height="2.98" fill="#b2dfdb"/>
<rect x="453.66" y="342.75" width="1.2" height="2.65" fill="#b2dfdb"/>
<rect x="455.23" y="343.19" width="1.2" height="2.21" fill="#b2dfdb"/>
<rect x="456.80" y="344.78" width="1.2" height="0.62" fill="#b2dfdb"/>
<rect x="458.37" y="345.40" width="1.2" height="0.54" fill="#ff5252"/>
<rect x="459.94" y="345.40" width="1.2" height="0.65" fill="#ff5252"/>
<rect x="461.51" y="345.40" width="1.2" height="0.58" fill="#ffcdd2"/>
<rect x="463.08" y="345.40" width="1.2" height="0.51" fill="#ffcdd2"/>
<rect x="464.55" y="343.70" width="1.1" height="1.70" fill="#b2dfdb"/>
<rect x="466.15" y="341.90" width="1.1" height="3.50" fill="#b2dfdb"/>
<rect x="467.75" y="340.40" width="1.1" height="5.00" fill="#26a69a"/>
<rect x="469.25" y="339.10" width="1.1" height="6.30" fill="#26a69a"/>
<rect x="470.85" y="339.00" width="1.1" height="6.40" fill="#b2dfdb"/>
<rect x="472.45" y="339.60" width="1.1" height="5.80" fill="#b2dfdb"/>
<rect x="473.95" y="340.10" width="1.1" height="5.30" fill="#b2dfdb"/>
<rect x="475.55" y="338.20" width="1.1" height="7.20" fill="#26a69a"/>
<rect x="477.15" y="337.90" width="1.1" height="7.50" fill="#26a69a"/>
<rect x="478.65" y="337.90" width="1.1" height="7.50" fill="#26a69a"/>
<polyline points="6.0,345.3 10.0,344.0 14.0,340.6 18.0,338.6 22.0,336.3 25.3,334.0 28.0,331.7 30.7,330.0 33.3,329.3 36.0,328.8 38.7,329.0 42.7,331.0 46.7,332.4 50.7,333.7 54.0,336.0 57.3,338.2 60.7,339.8 64.7,340.7 68.7,342.0 74.0,342.9 80.0,343.5 85.0,343.5 90.0,343.5 95.0,343.5 98.0,343.8 101.0,344.5 105.0,346.0 110.0,348.2 114.0,350.0 118.0,351.5 120.8,352.5 126.0,353.5 132.6,352.2 140.0,350.3 153.0,349.9 161.6,347.0 168.0,344.3 173.4,343.9 178.8,346.0 185.3,348.6 191.7,350.7 196.0,352.2 205.0,354.5 213.0,355.0 222.0,353.0 226.5,351.4 235.0,348.2 243.7,347.0 252.3,345.6 260.9,346.0 269.5,347.5 280.2,347.5 291.0,346.4 301.7,346.7 310.3,346.0 319.0,347.0 327.5,347.0 334.0,345.0 336.5,343.4 343.0,340.6 351.5,338.5 360.0,339.0 368.7,340.2 377.3,340.0 386.0,341.3 394.5,342.8 403.0,342.4 411.7,341.0 420.3,341.0 430.0,340.0 438.8,339.4 445.0,336.5 451.6,333.6 457.0,332.1 463.8,332.7 466.8,331.8 470.0,328.3 473.0,325.4 476.0,322.5 479.0,319.9" fill="none" stroke="#ffb74d" stroke-width="0.7" stroke-linejoin="round" />
<polyline points="6.0,345.3 8.7,342.7 11.3,340.0 14.7,336.9 17.3,336.3 20.0,334.7 22.7,332.7 25.3,330.0 27.3,327.3 29.3,326.0 32.0,327.0 36.0,328.5 40.0,331.3 44.0,333.3 48.0,336.0 50.7,335.2 53.3,338.0 56.0,340.7 58.7,341.4 62.7,340.2 66.7,342.7 70.0,343.3 74.7,343.1 80.0,343.7 85.0,344.0 90.0,343.2 95.0,343.5 98.0,344.5 101.0,346.0 105.0,348.0 110.0,350.0 114.0,351.5 118.0,353.5 124.0,354.0 130.4,352.2 135.8,348.8 142.3,350.3 148.7,349.9 153.0,350.7 159.5,346.0 164.8,342.8 169.0,342.0 173.4,345.0 178.8,348.2 184.2,350.7 187.4,352.2 195.0,355.0 205.0,356.0 213.0,355.0 219.7,352.2 226.5,349.9 233.0,347.0 241.5,347.0 248.0,344.5 254.4,345.0 263.0,347.5 269.5,348.6 278.0,347.0 288.8,345.6 297.4,347.0 306.0,345.0 314.6,346.7 322.0,348.2 327.5,346.0 331.8,342.8 336.5,339.6 341.8,337.4 347.2,338.5 353.7,337.0 360.0,339.6 366.6,341.3 375.2,339.6 383.8,341.3 390.2,343.4 394.5,343.9 401.0,341.7 407.4,340.2 416.0,340.2 422.5,341.7 430.0,339.4 433.0,338.3 438.8,338.8 442.0,336.5 447.5,333.0 451.6,330.4 455.7,330.1 459.2,333.0 463.8,333.2 466.0,330.1 468.5,324.3 471.0,320.8 474.3,318.4 476.7,314.9 479.0,312.2" fill="none" stroke="#4a6cf7" stroke-width="0.7" stroke-linejoin="round" />
</g>
<text x="11" y="318.8" font-size="7" fill="#363a45" text-anchor="start" font-weight="normal" textLength="80" lengthAdjust="spacingAndGlyphs" >MACD (close, 12, 26, 9)</text>
<text x="95.5" y="318.8" font-size="7" fill="#26a69a" text-anchor="start" font-weight="normal" textLength="13.5" lengthAdjust="spacingAndGlyphs" >1,74</text>
<text x="113" y="318.8" font-size="7" fill="#4a6cf7" text-anchor="start" font-weight="normal" textLength="14" lengthAdjust="spacingAndGlyphs" >7,52</text>
<text x="131.5" y="318.8" font-size="7" fill="#ffb74d" text-anchor="start" font-weight="normal" textLength="14" lengthAdjust="spacingAndGlyphs" >5,78</text>
<g clip-path="url(#cRsi)">
<rect x="6.5" y="366.4" width="551.0" height="29.400000000000034" fill="#7e57c2" fill-opacity="0.1"/>
<line x1="6.5" y1="366.4" x2="557.5" y2="366.4" stroke="#9e9e9e" stroke-width="0.7" stroke-dasharray="3.5 3.2"/>
<line x1="6.5" y1="381" x2="557.5" y2="381" stroke="#d2d2d9" stroke-width="0.7" stroke-dasharray="3.5 3.2"/>
<line x1="6.5" y1="395.8" x2="557.5" y2="395.8" stroke="#9e9e9e" stroke-width="0.7" stroke-dasharray="3.5 3.2"/>
<clipPath id="cOB"><rect x="0" y="352" width="600" height="14.4"/></clipPath>
<polygon points="6,366.4 6.0,376.0 9.0,372.0 13.0,368.6 16.0,374.0 19.0,370.0 21.5,368.6 24.0,366.0 27.0,364.3 29.5,366.5 32.0,369.7 34.0,367.5 37.6,372.9 41.0,378.3 43.0,374.0 45.0,375.0 47.0,377.0 49.5,371.8 51.5,377.0 53.8,382.6 56.0,380.0 58.5,378.5 60.5,380.0 62.4,377.2 64.5,379.0 66.7,381.5 69.0,379.0 71.0,380.5 73.0,378.3 76.0,380.5 79.6,380.0 82.0,377.5 84.0,380.0 86.0,378.3 88.5,380.0 91.4,377.2 94.0,379.0 96.8,382.6 99.0,384.0 101.0,386.9 103.0,385.5 105.4,384.7 107.5,387.0 109.7,388.0 113.0,391.6 117.5,385.8 121.8,390.7 127.2,384.7 132.6,379.3 135.0,383.0 138.0,388.0 143.3,384.3 147.6,389.0 150.9,390.0 155.2,383.6 159.5,375.0 162.0,374.5 164.8,372.9 167.6,370.7 169.8,381.5 172.0,385.0 174.5,388.0 178.8,384.7 181.5,388.0 184.2,391.2 188.5,393.3 191.7,388.0 196.0,394.4 199.2,395.9 202.0,393.5 204.6,392.2 207.0,391.5 210.0,389.0 212.5,390.5 215.4,390.7 217.5,386.0 219.7,382.6 222.0,384.5 223.2,385.2 226.5,381.0 229.7,377.2 232.9,379.3 235.5,384.0 238.3,388.0 242.6,381.5 245.0,378.5 248.0,375.0 250.0,378.0 252.3,381.5 254.4,379.3 257.0,383.0 259.8,385.8 264.0,388.6 268.4,388.0 271.6,381.5 274.0,383.0 276.0,384.3 279.0,380.8 282.4,384.3 284.5,378.7 286.5,383.0 288.8,387.3 293.0,383.0 297.4,388.0 301.7,378.7 303.9,381.5 307.0,377.2 309.0,380.0 311.4,383.6 315.7,386.9 321.0,388.4 324.3,381.5 326.5,383.6 330.8,367.5 333.2,370.7 335.5,368.0 338.6,365.4 341.8,367.5 344.0,374.0 348.3,371.8 351.5,366.4 354.7,374.0 358.0,380.0 361.2,376.0 364.4,382.6 367.6,377.2 370.9,375.0 374.0,369.7 377.3,376.0 380.5,379.3 382.7,377.2 385.0,380.5 388.0,383.6 390.5,381.5 393.4,380.4 396.0,376.0 398.8,371.8 403.0,372.9 405.0,370.5 407.4,368.6 410.0,374.0 411.3,385.8 413.9,372.9 416.0,375.0 419.2,382.6 421.4,379.3 424.6,381.5 426.8,372.9 430.0,374.8 433.0,372.4 437.6,378.8 440.0,373.6 443.5,370.5 447.5,367.2 451.6,365.0 455.0,366.6 457.0,372.4 459.2,375.7 461.0,369.5 463.0,373.6 465.0,365.4 467.0,366.6 469.0,362.5 471.0,360.4 472.6,367.0 475.0,364.3 477.3,360.2 479.0,362.5 479.5,366.4" fill="#4caf50" fill-opacity="0.18" clip-path="url(#cOB)"/>
<polyline points="6.0,378.7 13.0,378.3 21.5,372.9 30.0,368.6 36.5,368.6 45.0,371.4 53.8,375.0 62.4,378.3 75.3,380.0 90.3,379.3 101.0,382.0 111.8,385.8 120.8,388.6 131.5,386.9 142.3,385.2 153.0,385.8 161.6,383.0 170.2,379.3 178.8,380.0 187.4,384.7 196.0,389.0 204.6,391.6 213.2,391.2 221.8,388.0 230.8,385.8 241.5,382.6 252.3,381.0 263.0,382.0 273.8,384.3 284.5,383.6 295.3,383.2 306.0,382.6 316.8,383.2 325.4,384.3 331.8,381.5 336.5,377.2 343.0,372.9 351.5,370.0 360.0,372.9 368.7,376.0 377.3,376.0 386.0,377.2 394.5,378.3 403.0,376.0 411.7,373.5 420.3,374.0 429.0,376.0 437.5,376.5 444.0,374.0 447.2,372.2 455.8,370.0 464.4,368.6 473.0,367.0 479.5,366.0" fill="none" stroke="#ffcc66" stroke-width="0.7" stroke-linejoin="round" />
<polyline points="6.0,376.0 9.0,372.0 13.0,368.6 16.0,374.0 19.0,370.0 21.5,368.6 24.0,366.0 27.0,364.3 29.5,366.5 32.0,369.7 34.0,367.5 37.6,372.9 41.0,378.3 43.0,374.0 45.0,375.0 47.0,377.0 49.5,371.8 51.5,377.0 53.8,382.6 56.0,380.0 58.5,378.5 60.5,380.0 62.4,377.2 64.5,379.0 66.7,381.5 69.0,379.0 71.0,380.5 73.0,378.3 76.0,380.5 79.6,380.0 82.0,377.5 84.0,380.0 86.0,378.3 88.5,380.0 91.4,377.2 94.0,379.0 96.8,382.6 99.0,384.0 101.0,386.9 103.0,385.5 105.4,384.7 107.5,387.0 109.7,388.0 113.0,391.6 117.5,385.8 121.8,390.7 127.2,384.7 132.6,379.3 135.0,383.0 138.0,388.0 143.3,384.3 147.6,389.0 150.9,390.0 155.2,383.6 159.5,375.0 162.0,374.5 164.8,372.9 167.6,370.7 169.8,381.5 172.0,385.0 174.5,388.0 178.8,384.7 181.5,388.0 184.2,391.2 188.5,393.3 191.7,388.0 196.0,394.4 199.2,395.9 202.0,393.5 204.6,392.2 207.0,391.5 210.0,389.0 212.5,390.5 215.4,390.7 217.5,386.0 219.7,382.6 222.0,384.5 223.2,385.2 226.5,381.0 229.7,377.2 232.9,379.3 235.5,384.0 238.3,388.0 242.6,381.5 245.0,378.5 248.0,375.0 250.0,378.0 252.3,381.5 254.4,379.3 257.0,383.0 259.8,385.8 264.0,388.6 268.4,388.0 271.6,381.5 274.0,383.0 276.0,384.3 279.0,380.8 282.4,384.3 284.5,378.7 286.5,383.0 288.8,387.3 293.0,383.0 297.4,388.0 301.7,378.7 303.9,381.5 307.0,377.2 309.0,380.0 311.4,383.6 315.7,386.9 321.0,388.4 324.3,381.5 326.5,383.6 330.8,367.5 333.2,370.7 335.5,368.0 338.6,365.4 341.8,367.5 344.0,374.0 348.3,371.8 351.5,366.4 354.7,374.0 358.0,380.0 361.2,376.0 364.4,382.6 367.6,377.2 370.9,375.0 374.0,369.7 377.3,376.0 380.5,379.3 382.7,377.2 385.0,380.5 388.0,383.6 390.5,381.5 393.4,380.4 396.0,376.0 398.8,371.8 403.0,372.9 405.0,370.5 407.4,368.6 410.0,374.0 411.3,385.8 413.9,372.9 416.0,375.0 419.2,382.6 421.4,379.3 424.6,381.5 426.8,372.9 430.0,374.8 433.0,372.4 437.6,378.8 440.0,373.6 443.5,370.5 447.5,367.2 451.6,365.0 455.0,366.6 457.0,372.4 459.2,375.7 461.0,369.5 463.0,373.6 465.0,365.4 467.0,366.6 469.0,362.5 471.0,360.4 472.6,367.0 475.0,364.3 477.3,360.2 479.0,362.5" fill="none" stroke="#7e57c2" stroke-width="0.7" stroke-linejoin="round" />
</g>
<text x="11" y="366.3" font-size="7" fill="#363a45" text-anchor="start" font-weight="normal" textLength="47.5" lengthAdjust="spacingAndGlyphs" >RSI (14, close)</text>
<text x="63" y="366.3" font-size="7" fill="#7e57c2" text-anchor="start" font-weight="normal" textLength="20" lengthAdjust="spacingAndGlyphs" >75,68</text>
<text x="87" y="366.3" font-size="7" fill="#ffcc44" text-anchor="start" font-weight="normal" textLength="20" lengthAdjust="spacingAndGlyphs" >69,79</text>
<rect x="6.5" y="16.5" width="588.0" height="398.0" fill="none" stroke="#ebecf1" stroke-width="1"/>
<line x1="6.5" y1="36.5" x2="594.5" y2="36.5" stroke="#ebecf1" stroke-width="1"/>
<line x1="6.5" y1="305.5" x2="594.5" y2="305.5" stroke="#ebecf1" stroke-width="1"/>
<line x1="6.5" y1="352.5" x2="594.5" y2="352.5" stroke="#ebecf1" stroke-width="1"/>
<line x1="6.5" y1="398.5" x2="594.5" y2="398.5" stroke="#ebecf1" stroke-width="1"/>
<line x1="557.5" y1="16.5" x2="557.5" y2="414.5" stroke="#ebecf1" stroke-width="1"/>
<text x="563" y="60.6" font-size="7" fill="#2a2e39" text-anchor="start" font-weight="normal" textLength="20" lengthAdjust="spacingAndGlyphs" >80,00</text>
<text x="563" y="94.0" font-size="7" fill="#2a2e39" text-anchor="start" font-weight="normal" textLength="20" lengthAdjust="spacingAndGlyphs" >70,00</text>
<text x="563" y="161.6" font-size="7" fill="#2a2e39" text-anchor="start" font-weight="normal" textLength="20" lengthAdjust="spacingAndGlyphs" >50,00</text>
<text x="563" y="195.2" font-size="7" fill="#2a2e39" text-anchor="start" font-weight="normal" textLength="20" lengthAdjust="spacingAndGlyphs" >40,00</text>
<text x="563" y="229.1" font-size="7" fill="#2a2e39" text-anchor="start" font-weight="normal" textLength="20" lengthAdjust="spacingAndGlyphs" >30,00</text>
<text x="563" y="262.90000000000003" font-size="7" fill="#2a2e39" text-anchor="start" font-weight="normal" textLength="20" lengthAdjust="spacingAndGlyphs" >20,00</text>
<text x="563" y="296.8" font-size="7" fill="#2a2e39" text-anchor="start" font-weight="normal" textLength="20" lengthAdjust="spacingAndGlyphs" >10,00</text>
<text x="563" y="326.0" font-size="7" fill="#2a2e39" text-anchor="start" font-weight="normal" textLength="16" lengthAdjust="spacingAndGlyphs" >5,00</text>
<text x="563" y="348.0" font-size="7" fill="#2a2e39" text-anchor="start" font-weight="normal" textLength="25" lengthAdjust="spacingAndGlyphs" >0,0000</text>
<text x="563" y="361.90000000000003" font-size="7" fill="#2a2e39" text-anchor="start" font-weight="normal" textLength="20" lengthAdjust="spacingAndGlyphs" >80,00</text>
<text x="563" y="390.6" font-size="7" fill="#2a2e39" text-anchor="start" font-weight="normal" textLength="20" lengthAdjust="spacingAndGlyphs" >40,00</text>
<rect x="559" y="38" width="34" height="18.8" fill="#ffffff"/>
<rect x="560.7" y="39.5" width="30.6" height="15.5" rx="2" fill="#ffffff" stroke="#eceef3" stroke-width="1"/>
<text x="565.6" y="50" font-size="7" fill="#2a2e39" text-anchor="start" font-weight="normal" textLength="14.5" lengthAdjust="spacingAndGlyphs" >USD</text>
<rect x="534.3" y="110.8" width="23.2" height="9.3" fill="#ef5350"/>
<text x="546.2" y="118.1" font-size="7" fill="#ffffff" text-anchor="middle" font-weight="normal" textLength="17.8" lengthAdjust="spacingAndGlyphs" >PAAS</text>
<rect x="558.2" y="110.8" width="28.1" height="18.3" rx="1" fill="#ef5350"/>
<text x="563.3" y="118.1" font-size="7" fill="#ffffff" text-anchor="start" font-weight="bold" textLength="19.8" lengthAdjust="spacingAndGlyphs" >62,97</text>
<text x="564.1" y="126.8" font-size="7" fill="#ffffff" text-anchor="start" font-weight="normal" textLength="18.7" lengthAdjust="spacingAndGlyphs" >1d 3h</text>
<text x="23.2" y="409.2" font-size="7" fill="#2a2e39" text-anchor="middle" font-weight="normal" textLength="8.5" lengthAdjust="spacingAndGlyphs" >Jul</text>
<text x="64.0" y="409.2" font-size="7" fill="#2a2e39" text-anchor="middle" font-weight="bold" textLength="17.7" lengthAdjust="spacingAndGlyphs" >2021</text>
<text x="104.8" y="409.2" font-size="7" fill="#2a2e39" text-anchor="middle" font-weight="normal" textLength="8.5" lengthAdjust="spacingAndGlyphs" >Jul</text>
<text x="145.5" y="409.2" font-size="7" fill="#2a2e39" text-anchor="middle" font-weight="bold" textLength="17.7" lengthAdjust="spacingAndGlyphs" >2022</text>
<text x="186.5" y="409.2" font-size="7" fill="#2a2e39" text-anchor="middle" font-weight="normal" textLength="8.5" lengthAdjust="spacingAndGlyphs" >Jul</text>
<text x="227.3" y="409.2" font-size="7" fill="#2a2e39" text-anchor="middle" font-weight="bold" textLength="17.7" lengthAdjust="spacingAndGlyphs" >2023</text>
<text x="268.5" y="409.2" font-size="7" fill="#2a2e39" text-anchor="middle" font-weight="normal" textLength="8.5" lengthAdjust="spacingAndGlyphs" >Jul</text>
<text x="309.2" y="409.2" font-size="7" fill="#2a2e39" text-anchor="middle" font-weight="bold" textLength="17.7" lengthAdjust="spacingAndGlyphs" >2024</text>
<text x="350.2" y="409.2" font-size="7" fill="#2a2e39" text-anchor="middle" font-weight="normal" textLength="8.5" lengthAdjust="spacingAndGlyphs" >Jul</text>
<text x="392.2" y="409.2" font-size="7" fill="#2a2e39" text-anchor="middle" font-weight="bold" textLength="17.7" lengthAdjust="spacingAndGlyphs" >2025</text>
<text x="433.3" y="409.2" font-size="7" fill="#2a2e39" text-anchor="middle" font-weight="normal" textLength="8.5" lengthAdjust="spacingAndGlyphs" >Jul</text>
<text x="474.2" y="409.2" font-size="7" fill="#2a2e39" text-anchor="middle" font-weight="bold" textLength="17.7" lengthAdjust="spacingAndGlyphs" >2026</text>
<text x="515.0" y="409.2" font-size="7" fill="#2a2e39" text-anchor="middle" font-weight="normal" textLength="8.5" lengthAdjust="spacingAndGlyphs" >Jul</text>
<g clip-path="url(#cRsi)"></g>
<clipPath id="cT"><rect x="6.5" y="398.5" width="551.0" height="16"/></clipPath>
<g clip-path="url(#cT)">
<text x="546.8" y="409.2" font-size="7" fill="#2a2e39" text-anchor="start" font-weight="bold" textLength="17.7" lengthAdjust="spacingAndGlyphs" >2027</text>
</g>
<g fill="#15171c">
<path d="M7.9,428.3 h6.7 v8.8 h-3.5 v-5.1 h-3.2 z"/>
<circle cx="17.1" cy="429.9" r="1.65"/>
<path d="M20.3,428.3 h4.8 l-3.5,8.8 h-4.5 z"/>
</g>
<text x="30" y="437.1" font-size="12" fill="#15171c" text-anchor="start" font-weight="normal" textLength="72" lengthAdjust="spacingAndGlyphs" stroke="#15171c" stroke-width="0.35">TradingView</text>
</svg>
</body></html>
